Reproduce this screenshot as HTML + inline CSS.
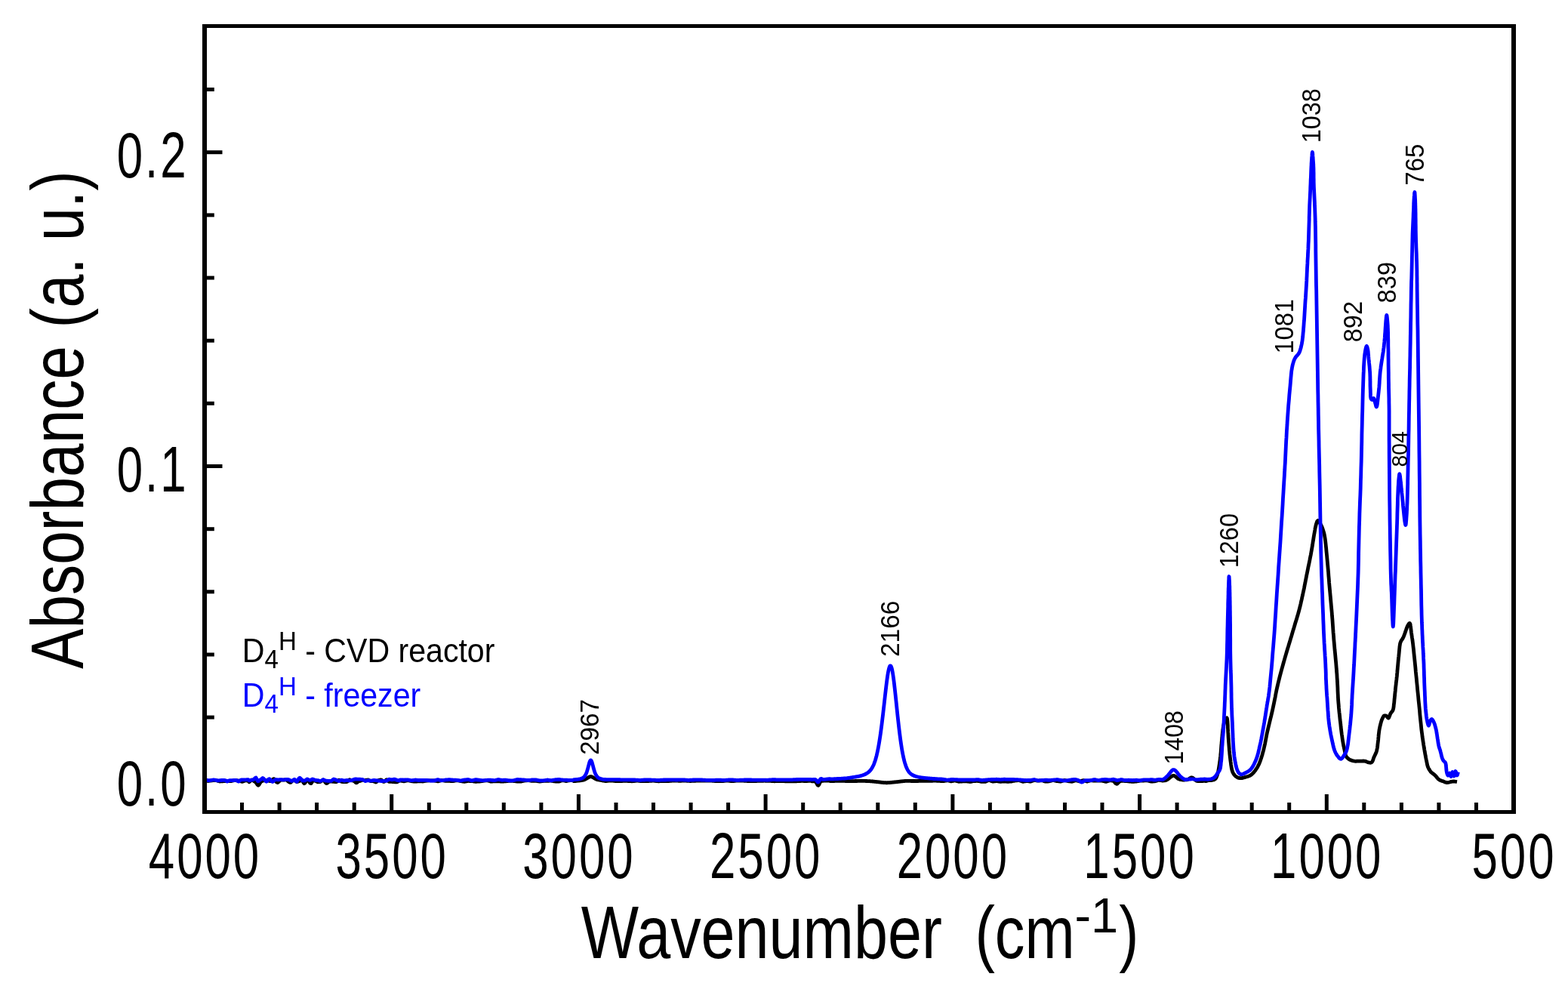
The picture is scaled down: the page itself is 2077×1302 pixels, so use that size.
<!DOCTYPE html>
<html><head><meta charset="utf-8"><title>IR spectra</title>
<style>html,body{margin:0;padding:0;background:#fff;overflow:hidden}svg{display:block}</style>
</head><body>
<svg width="2077" height="1302" viewBox="0 0 2077 1302">
<rect width="100%" height="100%" fill="#fff"/>
<path d="M271.0 1034.0 L272.0 1034.1 L273.0 1034.2 L274.0 1034.3 L275.0 1034.4 L276.0 1034.5 L277.0 1034.3 L278.0 1034.2 L279.0 1034.1 L280.0 1033.9 L281.0 1033.8 L282.0 1033.7 L283.0 1033.7 L284.0 1033.6 L285.0 1033.6 L286.0 1033.5 L287.0 1033.8 L288.0 1034.1 L289.0 1034.4 L290.0 1034.7 L291.0 1035.0 L292.0 1034.9 L293.0 1034.9 L294.0 1034.8 L295.0 1034.8 L296.0 1034.7 L297.0 1034.7 L298.0 1034.7 L299.0 1034.7 L300.0 1034.7 L301.0 1034.7 L302.0 1034.6 L303.0 1034.6 L304.0 1034.6 L305.0 1034.6 L306.0 1034.6 L307.0 1034.3 L308.0 1034.1 L309.0 1033.9 L310.0 1033.7 L311.0 1033.5 L312.0 1033.6 L313.0 1033.7 L314.0 1033.9 L315.0 1034.0 L316.0 1034.1 L317.0 1034.4 L318.0 1034.6 L319.0 1034.8 L320.0 1035.1 L321.0 1035.3 L322.0 1034.9 L323.0 1034.6 L324.0 1034.2 L325.0 1033.9 L326.0 1033.5 L327.0 1033.8 L328.0 1034.2 L329.0 1034.5 L330.0 1035.8 L331.0 1034.9 L332.0 1034.1 L333.0 1033.2 L334.0 1033.1 L335.0 1033.7 L336.0 1034.4 L337.0 1035.1 L338.0 1035.5 L339.0 1036.3 L340.0 1037.8 L341.0 1039.4 L342.0 1040.2 L343.0 1039.5 L344.0 1037.9 L345.0 1036.2 L346.0 1035.1 L347.0 1034.6 L348.0 1034.3 L349.0 1034.0 L350.0 1033.8 L351.0 1033.6 L352.0 1033.6 L353.0 1033.6 L354.0 1033.7 L355.0 1033.8 L356.0 1034.1 L357.0 1034.3 L358.0 1034.6 L359.0 1034.4 L360.0 1033.9 L361.0 1032.9 L362.0 1031.8 L363.0 1031.6 L364.0 1032.7 L365.0 1034.5 L366.0 1035.6 L367.0 1036.4 L368.0 1036.5 L369.0 1035.7 L370.0 1034.6 L371.0 1033.7 L372.0 1033.2 L373.0 1033.1 L374.0 1033.1 L375.0 1033.1 L376.0 1033.1 L377.0 1033.0 L378.0 1032.9 L379.0 1032.8 L380.0 1033.5 L381.0 1034.2 L382.0 1035.1 L383.0 1035.9 L384.0 1036.4 L385.0 1036.4 L386.0 1035.5 L387.0 1034.5 L388.0 1033.8 L389.0 1033.4 L390.0 1033.6 L391.0 1034.3 L392.0 1034.9 L393.0 1035.6 L394.0 1035.3 L395.0 1035.1 L396.0 1034.8 L397.0 1034.4 L398.0 1033.9 L399.0 1033.5 L400.0 1033.4 L401.0 1034.8 L402.0 1036.6 L403.0 1037.8 L404.0 1037.2 L405.0 1035.4 L406.0 1034.0 L407.0 1033.3 L408.0 1033.8 L409.0 1034.7 L410.0 1036.2 L411.0 1037.5 L412.0 1037.7 L413.0 1036.4 L414.0 1034.4 L415.0 1033.8 L416.0 1033.8 L417.0 1034.0 L418.0 1034.4 L419.0 1034.9 L420.0 1035.3 L421.0 1035.8 L422.0 1035.7 L423.0 1035.6 L424.0 1035.5 L425.0 1035.1 L426.0 1034.3 L427.0 1033.6 L428.0 1032.9 L429.0 1033.8 L430.0 1034.9 L431.0 1036.4 L432.0 1037.5 L433.0 1037.6 L434.0 1036.9 L435.0 1035.8 L436.0 1035.3 L437.0 1035.1 L438.0 1035.2 L439.0 1035.2 L440.0 1035.2 L441.0 1035.3 L442.0 1035.3 L443.0 1035.4 L444.0 1035.6 L445.0 1035.7 L446.0 1035.4 L447.0 1034.6 L448.0 1033.9 L449.0 1033.1 L450.0 1033.7 L451.0 1034.4 L452.0 1035.1 L453.0 1035.4 L454.0 1035.5 L455.0 1035.6 L456.0 1035.6 L457.0 1035.6 L458.0 1035.6 L459.0 1035.6 L460.0 1035.2 L461.0 1034.3 L462.0 1033.5 L463.0 1032.7 L464.0 1033.1 L465.0 1033.4 L466.0 1033.8 L467.0 1034.0 L468.0 1034.1 L469.0 1034.5 L470.0 1035.2 L471.0 1036.3 L472.0 1036.8 L473.0 1036.4 L474.0 1035.5 L475.0 1034.8 L476.0 1034.5 L477.0 1034.4 L478.0 1034.0 L479.0 1033.6 L480.0 1033.2 L481.0 1033.2 L482.0 1033.4 L483.0 1033.3 L484.0 1033.6 L485.0 1033.2 L486.0 1033.2 L487.0 1033.0 L488.0 1033.0 L489.0 1033.6 L490.0 1034.2 L491.0 1034.7 L492.0 1034.7 L493.0 1034.7 L494.0 1034.7 L495.0 1034.9 L496.0 1035.3 L497.0 1035.6 L498.0 1036.0 L499.0 1035.3 L500.0 1034.5 L501.0 1033.7 L502.0 1033.3 L503.0 1033.1 L504.0 1033.0 L505.0 1032.9 L506.0 1033.7 L507.0 1034.5 L508.0 1035.4 L509.0 1035.3 L510.0 1034.4 L511.0 1033.5 L512.0 1032.7 L513.0 1033.5 L514.0 1034.3 L515.0 1035.1 L516.0 1035.4 L517.0 1035.4 L518.0 1035.4 L519.0 1035.4 L520.0 1035.5 L521.0 1035.6 L522.0 1035.7 L523.0 1035.8 L524.0 1035.8 L525.0 1035.9 L526.0 1035.9 L527.0 1035.2 L528.0 1034.6 L529.0 1033.9 L530.0 1034.0 L531.0 1034.2 L532.0 1034.3 L533.0 1034.5 L534.0 1034.7 L535.0 1034.8 L536.0 1034.6 L537.0 1034.3 L538.0 1034.1 L539.0 1033.8 L540.0 1033.6 L541.0 1033.8 L542.0 1034.0 L543.0 1034.3 L544.0 1034.5 L545.0 1034.7 L546.0 1034.8 L547.0 1034.9 L548.0 1035.0 L549.0 1035.0 L550.0 1035.1 L551.0 1035.0 L552.0 1035.0 L553.0 1034.9 L554.0 1034.8 L555.0 1034.8 L556.0 1034.8 L557.0 1034.9 L558.0 1034.9 L559.0 1034.9 L560.0 1035.0 L561.0 1034.8 L562.0 1034.6 L563.0 1034.4 L564.0 1034.3 L565.0 1034.1 L566.0 1034.1 L567.0 1034.0 L568.0 1033.9 L569.0 1033.9 L570.0 1033.8 L571.0 1033.8 L572.0 1033.9 L573.0 1033.9 L574.0 1033.9 L575.0 1033.9 L576.0 1034.1 L577.0 1034.3 L578.0 1034.5 L579.0 1034.7 L580.0 1034.9 L581.0 1034.6 L582.0 1034.3 L583.0 1034.1 L584.0 1033.8 L585.0 1033.5 L586.0 1033.7 L587.0 1033.8 L588.0 1034.0 L589.0 1034.1 L590.0 1034.3 L591.0 1034.3 L592.0 1034.3 L593.0 1034.3 L594.0 1034.4 L595.0 1034.4 L596.0 1034.4 L597.0 1034.5 L598.0 1034.6 L599.0 1034.6 L600.0 1034.7 L601.0 1034.5 L602.0 1034.3 L603.0 1034.0 L604.0 1033.8 L605.0 1033.6 L606.0 1033.8 L607.0 1034.0 L608.0 1034.2 L609.0 1034.4 L610.0 1034.5 L611.0 1034.7 L612.0 1034.9 L613.0 1035.0 L614.0 1035.2 L615.0 1035.3 L616.0 1035.1 L617.0 1035.0 L618.0 1034.8 L619.0 1034.6 L620.0 1034.4 L621.0 1034.4 L622.0 1034.5 L623.0 1034.5 L624.0 1034.5 L625.0 1034.5 L626.0 1034.7 L627.0 1034.9 L628.0 1035.0 L629.0 1035.2 L630.0 1035.4 L631.0 1035.3 L632.0 1035.2 L633.0 1035.2 L634.0 1035.1 L635.0 1035.1 L636.0 1034.9 L637.0 1034.8 L638.0 1034.7 L639.0 1034.5 L640.0 1034.4 L641.0 1034.2 L642.0 1034.1 L643.0 1033.9 L644.0 1033.7 L645.0 1033.6 L646.0 1033.9 L647.0 1034.2 L648.0 1034.5 L649.0 1034.8 L650.0 1035.1 L651.0 1035.1 L652.0 1035.0 L653.0 1034.9 L654.0 1034.9 L655.0 1034.8 L656.0 1034.8 L657.0 1034.8 L658.0 1034.8 L659.0 1034.8 L660.0 1034.9 L661.0 1034.9 L662.0 1034.9 L663.0 1035.0 L664.0 1035.0 L665.0 1035.0 L666.0 1035.0 L667.0 1035.0 L668.0 1034.9 L669.0 1034.9 L670.0 1034.9 L671.0 1034.7 L672.0 1034.6 L673.0 1034.5 L674.0 1034.3 L675.0 1034.2 L676.0 1034.3 L677.0 1034.3 L678.0 1034.3 L679.0 1034.4 L680.0 1034.4 L681.0 1034.6 L682.0 1034.7 L683.0 1034.8 L684.0 1034.9 L685.0 1035.1 L686.0 1035.1 L687.0 1035.1 L688.0 1035.1 L689.0 1035.1 L690.0 1035.1 L691.0 1034.9 L692.0 1034.7 L693.0 1034.4 L694.0 1034.2 L695.0 1034.0 L696.0 1033.9 L697.0 1033.9 L698.0 1033.8 L699.0 1033.7 L700.0 1033.6 L701.0 1033.8 L702.0 1033.9 L703.0 1034.1 L704.0 1034.3 L705.0 1034.4 L706.0 1034.4 L707.0 1034.4 L708.0 1034.3 L709.0 1034.3 L710.0 1034.3 L711.0 1034.5 L712.0 1034.6 L713.0 1034.8 L714.0 1035.0 L715.0 1035.2 L716.0 1035.0 L717.0 1034.8 L718.0 1034.7 L719.0 1034.5 L720.0 1034.4 L721.0 1034.4 L722.0 1034.4 L723.0 1034.4 L724.0 1034.4 L725.0 1034.4 L726.0 1034.3 L727.0 1034.3 L728.0 1034.2 L729.0 1034.1 L730.0 1034.1 L731.0 1034.3 L732.0 1034.4 L733.0 1034.6 L734.0 1034.8 L735.0 1034.9 L736.0 1035.0 L737.0 1035.0 L738.0 1035.1 L739.0 1035.2 L740.0 1035.2 L741.0 1034.9 L742.0 1034.6 L743.0 1034.2 L744.0 1033.9 L745.0 1033.6 L746.0 1033.8 L747.0 1034.0 L748.0 1034.2 L749.0 1034.4 L750.0 1034.6 L751.0 1034.4 L752.0 1034.2 L753.0 1034.0 L754.0 1033.8 L755.0 1033.6 L756.0 1033.6 L757.0 1033.7 L758.0 1033.7 L759.0 1033.8 L760.0 1034.7 L761.0 1034.6 L762.0 1034.5 L763.0 1034.4 L764.0 1034.3 L765.0 1034.2 L766.0 1034.1 L767.0 1034.0 L768.0 1033.9 L769.0 1033.8 L770.0 1033.7 L770.5 1033.6 L771.0 1033.5 L771.5 1033.4 L772.0 1033.3 L772.5 1033.2 L773.0 1033.0 L773.5 1032.9 L774.0 1032.7 L774.5 1032.5 L775.0 1032.3 L775.5 1032.0 L776.0 1031.8 L776.5 1031.5 L777.0 1031.2 L777.5 1030.9 L778.0 1030.6 L778.5 1030.3 L779.0 1030.0 L779.5 1029.7 L780.0 1029.4 L780.5 1029.1 L781.0 1028.9 L781.5 1028.7 L782.0 1028.6 L782.5 1028.6 L783.0 1028.6 L783.5 1028.7 L784.0 1028.9 L784.5 1029.1 L785.0 1029.4 L785.5 1029.7 L786.0 1030.0 L786.5 1030.3 L787.0 1030.6 L787.5 1031.0 L788.0 1031.3 L788.5 1031.5 L789.0 1031.8 L789.5 1032.0 L790.0 1032.2 L790.5 1032.4 L791.0 1032.6 L791.5 1032.7 L792.0 1032.8 L792.5 1032.9 L793.0 1033.0 L793.5 1033.1 L794.0 1033.2 L794.5 1033.2 L795.0 1033.2 L795.5 1033.4 L796.0 1033.5 L797.0 1033.7 L798.0 1033.9 L799.0 1034.1 L800.0 1034.2 L801.0 1034.4 L802.0 1034.5 L803.0 1034.5 L804.0 1034.4 L805.0 1034.3 L806.0 1034.2 L807.0 1034.1 L808.0 1034.0 L809.0 1033.9 L810.0 1034.0 L811.0 1034.1 L812.0 1034.2 L813.0 1034.3 L814.0 1034.4 L815.0 1034.5 L816.0 1034.6 L817.0 1034.6 L818.0 1034.6 L819.0 1034.5 L820.0 1034.5 L821.0 1034.5 L822.0 1034.5 L823.0 1034.5 L824.0 1034.5 L825.0 1034.4 L826.0 1034.4 L827.0 1034.4 L828.0 1034.4 L829.0 1034.4 L830.0 1034.3 L831.0 1034.4 L832.0 1034.5 L833.0 1034.5 L834.0 1034.6 L835.0 1034.7 L836.0 1034.7 L837.0 1034.8 L838.0 1034.7 L839.0 1034.6 L840.0 1034.5 L841.0 1034.4 L842.0 1034.3 L843.0 1034.2 L844.0 1034.1 L845.0 1034.2 L846.0 1034.3 L847.0 1034.4 L848.0 1034.5 L849.0 1034.5 L850.0 1034.6 L851.0 1034.7 L852.0 1034.7 L853.0 1034.7 L854.0 1034.6 L855.0 1034.6 L856.0 1034.6 L857.0 1034.6 L858.0 1034.6 L859.0 1034.5 L860.0 1034.4 L861.0 1034.4 L862.0 1034.3 L863.0 1034.3 L864.0 1034.2 L865.0 1034.1 L866.0 1034.2 L867.0 1034.3 L868.0 1034.4 L869.0 1034.5 L870.0 1034.6 L871.0 1034.7 L872.0 1034.8 L873.0 1034.8 L874.0 1034.7 L875.0 1034.7 L876.0 1034.6 L877.0 1034.6 L878.0 1034.5 L879.0 1034.5 L880.0 1034.5 L881.0 1034.5 L882.0 1034.5 L883.0 1034.5 L884.0 1034.5 L885.0 1034.5 L886.0 1034.5 L887.0 1034.4 L888.0 1034.4 L889.0 1034.3 L890.0 1034.2 L891.0 1034.2 L892.0 1034.1 L893.0 1034.0 L894.0 1034.1 L895.0 1034.1 L896.0 1034.2 L897.0 1034.2 L898.0 1034.2 L899.0 1034.3 L900.0 1034.3 L901.0 1034.3 L902.0 1034.3 L903.0 1034.2 L904.0 1034.2 L905.0 1034.2 L906.0 1034.2 L907.0 1034.1 L908.0 1034.2 L909.0 1034.2 L910.0 1034.3 L911.0 1034.3 L912.0 1034.4 L913.0 1034.4 L914.0 1034.5 L915.0 1034.5 L916.0 1034.4 L917.0 1034.4 L918.0 1034.4 L919.0 1034.3 L920.0 1034.3 L921.0 1034.3 L922.0 1034.2 L923.0 1034.2 L924.0 1034.2 L925.0 1034.1 L926.0 1034.1 L927.0 1034.1 L928.0 1034.1 L929.0 1034.1 L930.0 1034.1 L931.0 1034.1 L932.0 1034.2 L933.0 1034.2 L934.0 1034.2 L935.0 1034.2 L936.0 1034.2 L937.0 1034.2 L938.0 1034.2 L939.0 1034.2 L940.0 1034.1 L941.0 1034.1 L942.0 1034.1 L943.0 1034.2 L944.0 1034.3 L945.0 1034.4 L946.0 1034.4 L947.0 1034.5 L948.0 1034.6 L949.0 1034.7 L950.0 1034.7 L951.0 1034.7 L952.0 1034.7 L953.0 1034.7 L954.0 1034.7 L955.0 1034.7 L956.0 1034.7 L957.0 1034.6 L958.0 1034.5 L959.0 1034.4 L960.0 1034.3 L961.0 1034.2 L962.0 1034.2 L963.0 1034.1 L964.0 1034.1 L965.0 1034.2 L966.0 1034.3 L967.0 1034.4 L968.0 1034.5 L969.0 1034.6 L970.0 1034.6 L971.0 1034.5 L972.0 1034.5 L973.0 1034.4 L974.0 1034.3 L975.0 1034.2 L976.0 1034.1 L977.0 1034.0 L978.0 1034.0 L979.0 1034.0 L980.0 1034.0 L981.0 1034.1 L982.0 1034.1 L983.0 1034.1 L984.0 1034.1 L985.0 1034.2 L986.0 1034.3 L987.0 1034.3 L988.0 1034.4 L989.0 1034.4 L990.0 1034.5 L991.0 1034.5 L992.0 1034.6 L993.0 1034.6 L994.0 1034.6 L995.0 1034.6 L996.0 1034.6 L997.0 1034.6 L998.0 1034.6 L999.0 1034.6 L1000.0 1034.6 L1001.0 1034.5 L1002.0 1034.5 L1003.0 1034.4 L1004.0 1034.4 L1005.0 1034.4 L1006.0 1034.4 L1007.0 1034.3 L1008.0 1034.3 L1009.0 1034.3 L1010.0 1034.3 L1011.0 1034.3 L1012.0 1034.2 L1013.0 1034.2 L1014.0 1034.3 L1015.0 1034.3 L1016.0 1034.3 L1017.0 1034.3 L1018.0 1034.3 L1019.0 1034.3 L1020.0 1034.4 L1021.0 1034.4 L1022.0 1034.5 L1023.0 1034.6 L1024.0 1034.6 L1025.0 1034.7 L1026.0 1034.8 L1027.0 1034.7 L1028.0 1034.7 L1029.0 1034.6 L1030.0 1034.6 L1031.0 1034.5 L1032.0 1034.5 L1033.0 1034.4 L1034.0 1034.5 L1035.0 1034.5 L1036.0 1034.6 L1037.0 1034.6 L1038.0 1034.7 L1039.0 1034.7 L1040.0 1034.8 L1041.0 1034.8 L1042.0 1034.8 L1043.0 1034.8 L1044.0 1034.8 L1045.0 1034.8 L1046.0 1034.8 L1047.0 1034.9 L1048.0 1034.8 L1049.0 1034.8 L1050.0 1034.8 L1051.0 1034.8 L1052.0 1034.8 L1053.0 1034.8 L1054.0 1034.8 L1055.0 1034.8 L1056.0 1034.7 L1057.0 1034.7 L1058.0 1034.6 L1059.0 1034.5 L1060.0 1034.5 L1061.0 1034.4 L1062.0 1034.4 L1063.0 1034.4 L1064.0 1034.4 L1065.0 1034.5 L1066.0 1034.5 L1067.0 1034.5 L1068.0 1034.5 L1069.0 1034.5 L1070.0 1034.4 L1071.0 1034.3 L1072.0 1034.3 L1073.0 1034.2 L1074.0 1034.2 L1075.0 1034.8 L1076.0 1034.8 L1077.0 1034.8 L1078.0 1034.8 L1079.0 1034.9 L1080.0 1035.2 L1081.0 1036.2 L1082.0 1038.0 L1083.0 1039.9 L1084.0 1040.4 L1085.0 1039.0 L1086.0 1036.8 L1087.0 1035.1 L1088.0 1034.4 L1089.0 1034.3 L1090.0 1034.3 L1091.0 1034.2 L1092.0 1034.2 L1093.0 1034.1 L1094.0 1034.1 L1095.0 1034.2 L1096.0 1034.2 L1097.0 1034.2 L1098.0 1034.2 L1099.0 1034.3 L1100.0 1034.6 L1101.0 1034.6 L1102.0 1034.6 L1103.0 1034.5 L1104.0 1034.5 L1105.0 1034.5 L1106.0 1034.4 L1107.0 1034.4 L1108.0 1034.4 L1109.0 1034.3 L1110.0 1034.3 L1111.0 1034.3 L1112.0 1034.3 L1113.0 1034.3 L1114.0 1034.3 L1115.0 1034.4 L1116.0 1034.4 L1117.0 1034.4 L1118.0 1034.4 L1119.0 1034.4 L1120.0 1034.5 L1121.0 1034.5 L1122.0 1034.5 L1123.0 1034.5 L1124.0 1034.5 L1125.0 1034.6 L1126.0 1034.6 L1127.0 1034.6 L1128.0 1034.6 L1129.0 1034.6 L1130.0 1034.7 L1131.0 1034.6 L1132.0 1034.6 L1133.0 1034.5 L1134.0 1034.5 L1135.0 1034.5 L1136.0 1034.4 L1137.0 1034.4 L1138.0 1034.3 L1139.0 1034.3 L1140.0 1034.3 L1141.0 1034.3 L1142.0 1034.3 L1143.0 1034.3 L1144.0 1034.4 L1145.0 1034.4 L1146.0 1034.4 L1147.0 1034.5 L1148.0 1034.5 L1149.0 1034.6 L1150.0 1034.6 L1150.5 1034.6 L1151.0 1034.7 L1151.5 1034.7 L1152.0 1034.7 L1152.5 1034.7 L1153.0 1034.8 L1153.5 1034.8 L1154.0 1034.8 L1154.5 1034.9 L1155.0 1034.9 L1155.5 1035.0 L1156.0 1035.0 L1156.5 1035.0 L1157.0 1035.1 L1157.5 1035.1 L1158.0 1035.2 L1158.5 1035.3 L1159.0 1035.3 L1159.5 1035.4 L1160.0 1035.4 L1160.5 1035.5 L1161.0 1035.5 L1161.5 1035.6 L1162.0 1035.6 L1162.5 1035.7 L1163.0 1035.7 L1163.5 1035.8 L1164.0 1035.8 L1164.5 1035.9 L1165.0 1036.0 L1165.5 1036.0 L1166.0 1036.1 L1166.5 1036.1 L1167.0 1036.2 L1167.5 1036.3 L1168.0 1036.3 L1168.5 1036.4 L1169.0 1036.4 L1169.5 1036.5 L1170.0 1036.5 L1170.5 1036.6 L1171.0 1036.6 L1171.5 1036.6 L1172.0 1036.7 L1172.5 1036.7 L1173.0 1036.7 L1173.5 1036.7 L1174.0 1036.8 L1174.5 1036.8 L1175.0 1036.8 L1175.5 1036.7 L1176.0 1036.7 L1176.5 1036.7 L1177.0 1036.7 L1177.5 1036.6 L1178.0 1036.6 L1178.5 1036.6 L1179.0 1036.5 L1179.5 1036.5 L1180.0 1036.4 L1180.5 1036.4 L1181.0 1036.3 L1181.5 1036.3 L1182.0 1036.2 L1182.5 1036.2 L1183.0 1036.1 L1183.5 1036.1 L1184.0 1036.0 L1184.5 1036.0 L1185.0 1035.9 L1185.5 1035.9 L1186.0 1035.8 L1186.5 1035.8 L1187.0 1035.7 L1187.5 1035.7 L1188.0 1035.6 L1188.5 1035.6 L1189.0 1035.5 L1189.5 1035.5 L1190.0 1035.4 L1190.5 1035.4 L1191.0 1035.3 L1191.5 1035.2 L1192.0 1035.2 L1192.5 1035.1 L1193.0 1035.0 L1193.5 1035.0 L1194.0 1034.9 L1194.5 1034.9 L1195.0 1034.8 L1195.5 1034.8 L1196.0 1034.7 L1196.5 1034.7 L1197.0 1034.6 L1197.5 1034.6 L1198.0 1034.5 L1198.5 1034.5 L1199.0 1034.4 L1199.5 1034.4 L1200.0 1034.4 L1200.5 1034.4 L1201.0 1034.4 L1201.5 1034.4 L1202.0 1034.4 L1202.5 1034.4 L1203.0 1034.4 L1203.5 1034.4 L1204.0 1034.4 L1204.5 1034.4 L1205.0 1034.4 L1205.5 1034.4 L1206.0 1034.4 L1206.5 1034.5 L1207.0 1034.5 L1207.5 1034.5 L1208.0 1034.5 L1208.5 1034.5 L1209.0 1034.5 L1209.5 1034.5 L1210.0 1034.5 L1211.0 1034.5 L1212.0 1034.5 L1213.0 1034.5 L1214.0 1034.5 L1215.0 1034.5 L1216.0 1034.5 L1217.0 1034.4 L1218.0 1034.4 L1219.0 1034.4 L1220.0 1034.4 L1221.0 1034.4 L1222.0 1034.4 L1223.0 1034.4 L1224.0 1034.3 L1225.0 1034.3 L1226.0 1034.3 L1227.0 1034.3 L1228.0 1034.3 L1229.0 1034.3 L1230.0 1034.3 L1231.0 1034.3 L1232.0 1034.3 L1233.0 1034.3 L1234.0 1034.3 L1235.0 1034.3 L1236.0 1034.2 L1237.0 1034.2 L1238.0 1034.2 L1239.0 1034.2 L1240.0 1034.2 L1241.0 1034.3 L1242.0 1034.3 L1243.0 1034.4 L1244.0 1034.4 L1245.0 1034.4 L1246.0 1034.5 L1247.0 1034.5 L1248.0 1034.6 L1249.0 1034.6 L1250.0 1034.6 L1251.0 1034.4 L1252.0 1034.2 L1253.0 1034.1 L1254.0 1033.9 L1255.0 1033.7 L1256.0 1033.9 L1257.0 1034.2 L1258.0 1034.4 L1259.0 1034.6 L1260.0 1034.9 L1261.0 1034.7 L1262.0 1034.5 L1263.0 1034.3 L1264.0 1034.0 L1265.0 1033.8 L1266.0 1034.1 L1267.0 1034.4 L1268.0 1034.7 L1269.0 1035.0 L1270.0 1035.3 L1271.0 1035.2 L1272.0 1035.2 L1273.0 1035.1 L1274.0 1035.0 L1275.0 1034.9 L1276.0 1034.9 L1277.0 1034.9 L1278.0 1034.8 L1279.0 1034.8 L1280.0 1034.8 L1281.0 1034.9 L1282.0 1035.1 L1283.0 1035.2 L1284.0 1035.3 L1285.0 1035.5 L1286.0 1035.3 L1287.0 1035.1 L1288.0 1034.9 L1289.0 1034.7 L1290.0 1034.5 L1291.0 1034.5 L1292.0 1034.5 L1293.0 1034.4 L1294.0 1034.4 L1295.0 1034.4 L1296.0 1034.6 L1297.0 1034.7 L1298.0 1034.9 L1299.0 1035.1 L1300.0 1035.3 L1301.0 1035.3 L1302.0 1035.3 L1303.0 1035.4 L1304.0 1035.4 L1305.0 1035.4 L1306.0 1035.0 L1307.0 1034.6 L1308.0 1034.1 L1309.0 1033.7 L1310.0 1033.3 L1311.0 1033.7 L1312.0 1034.0 L1313.0 1034.4 L1314.0 1034.8 L1315.0 1035.1 L1316.0 1035.0 L1317.0 1034.9 L1318.0 1034.8 L1319.0 1034.6 L1320.0 1034.5 L1321.0 1034.7 L1322.0 1034.9 L1323.0 1035.0 L1324.0 1035.2 L1325.0 1035.4 L1326.0 1035.3 L1327.0 1035.2 L1328.0 1035.1 L1329.0 1035.0 L1330.0 1034.9 L1331.0 1035.0 L1332.0 1035.1 L1333.0 1035.2 L1334.0 1035.3 L1335.0 1035.4 L1336.0 1035.3 L1337.0 1035.2 L1338.0 1035.1 L1339.0 1035.1 L1340.0 1035.0 L1341.0 1034.7 L1342.0 1034.5 L1343.0 1034.3 L1344.0 1034.1 L1345.0 1033.9 L1346.0 1033.8 L1347.0 1033.8 L1348.0 1033.7 L1349.0 1033.6 L1350.0 1033.6 L1351.0 1033.9 L1352.0 1034.3 L1353.0 1034.6 L1354.0 1034.9 L1355.0 1035.3 L1356.0 1035.1 L1357.0 1034.9 L1358.0 1034.8 L1359.0 1034.6 L1360.0 1034.4 L1361.0 1034.6 L1362.0 1034.7 L1363.0 1034.9 L1364.0 1035.0 L1365.0 1035.2 L1366.0 1034.8 L1367.0 1034.5 L1368.0 1034.1 L1369.0 1033.8 L1370.0 1033.4 L1371.0 1033.6 L1372.0 1033.7 L1373.0 1033.9 L1374.0 1034.1 L1375.0 1034.2 L1376.0 1034.1 L1377.0 1034.0 L1378.0 1033.9 L1379.0 1033.8 L1380.0 1033.7 L1381.0 1034.0 L1382.0 1034.3 L1383.0 1034.6 L1384.0 1034.9 L1385.0 1035.2 L1386.0 1035.1 L1387.0 1035.0 L1388.0 1035.0 L1389.0 1034.9 L1390.0 1034.8 L1391.0 1034.5 L1392.0 1034.3 L1393.0 1034.0 L1394.0 1033.7 L1395.0 1033.4 L1396.0 1033.7 L1397.0 1033.9 L1398.0 1034.2 L1399.0 1034.4 L1400.0 1034.6 L1401.0 1034.7 L1402.0 1034.8 L1403.0 1034.9 L1404.0 1035.0 L1405.0 1035.1 L1406.0 1034.8 L1407.0 1034.4 L1408.0 1034.1 L1409.0 1033.7 L1410.0 1033.4 L1411.0 1033.6 L1412.0 1033.9 L1413.0 1034.1 L1414.0 1034.4 L1415.0 1034.6 L1416.0 1034.8 L1417.0 1034.9 L1418.0 1035.0 L1419.0 1035.2 L1420.0 1035.3 L1421.0 1035.0 L1422.0 1034.6 L1423.0 1034.3 L1424.0 1034.0 L1425.0 1033.6 L1426.0 1033.9 L1427.0 1034.1 L1428.0 1034.4 L1429.0 1034.6 L1430.0 1034.9 L1431.0 1034.6 L1432.0 1034.4 L1433.0 1034.1 L1434.0 1033.9 L1435.0 1033.6 L1436.0 1033.9 L1437.0 1034.2 L1438.0 1034.5 L1439.0 1034.8 L1440.0 1035.1 L1441.0 1034.8 L1442.0 1034.5 L1443.0 1034.3 L1444.0 1034.0 L1445.0 1033.7 L1446.0 1033.8 L1447.0 1033.9 L1448.0 1034.0 L1449.0 1034.0 L1450.0 1034.1 L1451.0 1034.1 L1452.0 1034.1 L1453.0 1034.1 L1454.0 1034.1 L1455.0 1034.1 L1456.0 1034.1 L1457.0 1034.1 L1458.0 1034.1 L1459.0 1034.1 L1460.0 1034.1 L1461.0 1034.4 L1462.0 1034.7 L1463.0 1034.9 L1464.0 1035.2 L1465.0 1035.4 L1466.0 1035.1 L1467.0 1034.7 L1468.0 1034.4 L1469.0 1034.1 L1470.0 1033.7 L1471.0 1033.8 L1472.0 1033.9 L1473.0 1034.0 L1474.0 1034.2 L1475.0 1034.7 L1476.0 1035.5 L1477.0 1036.7 L1478.0 1037.7 L1479.0 1038.3 L1480.0 1038.1 L1481.0 1037.1 L1482.0 1036.0 L1483.0 1035.1 L1484.0 1034.6 L1485.0 1034.3 L1486.0 1034.3 L1487.0 1034.3 L1488.0 1034.4 L1489.0 1034.4 L1490.0 1034.5 L1491.0 1034.6 L1492.0 1034.7 L1493.0 1034.7 L1494.0 1034.8 L1495.0 1034.9 L1496.0 1035.0 L1497.0 1035.1 L1498.0 1035.2 L1499.0 1035.3 L1500.0 1035.4 L1501.0 1035.4 L1502.0 1035.3 L1503.0 1035.2 L1504.0 1035.1 L1505.0 1035.0 L1506.0 1034.9 L1507.0 1034.7 L1508.0 1034.5 L1509.0 1034.4 L1510.0 1034.2 L1511.0 1034.1 L1512.0 1034.1 L1513.0 1034.0 L1514.0 1034.0 L1515.0 1034.0 L1516.0 1033.9 L1517.0 1033.9 L1518.0 1033.9 L1519.0 1033.9 L1520.0 1033.9 L1521.0 1034.2 L1522.0 1034.4 L1523.0 1034.6 L1524.0 1034.9 L1525.0 1035.1 L1526.0 1035.0 L1527.0 1035.0 L1528.0 1034.9 L1529.0 1034.8 L1530.0 1034.8 L1531.0 1034.5 L1532.0 1034.2 L1533.0 1033.8 L1534.0 1033.5 L1535.0 1033.2 L1536.0 1033.4 L1537.0 1033.6 L1538.0 1033.7 L1539.0 1033.9 L1540.0 1034.0 L1540.5 1034.0 L1541.0 1034.0 L1541.5 1033.9 L1542.0 1033.9 L1542.5 1033.8 L1543.0 1033.8 L1543.5 1033.7 L1544.0 1033.6 L1544.5 1033.4 L1545.0 1033.3 L1545.5 1033.0 L1546.0 1032.7 L1546.5 1032.4 L1547.0 1032.1 L1547.5 1031.7 L1548.0 1031.4 L1548.5 1031.0 L1549.0 1030.5 L1549.5 1030.1 L1550.0 1029.7 L1550.5 1029.3 L1551.0 1028.9 L1551.5 1028.6 L1552.0 1028.2 L1552.5 1027.9 L1553.0 1027.7 L1553.5 1027.5 L1554.0 1027.4 L1554.5 1027.3 L1555.0 1027.4 L1555.5 1027.5 L1556.0 1027.8 L1556.5 1028.1 L1557.0 1028.4 L1557.5 1028.8 L1558.0 1029.2 L1558.5 1029.7 L1559.0 1030.2 L1559.5 1030.6 L1560.0 1031.1 L1560.5 1031.4 L1561.0 1031.6 L1561.5 1031.8 L1562.0 1032.0 L1562.5 1032.2 L1563.0 1032.4 L1563.5 1032.5 L1564.0 1032.6 L1564.5 1032.7 L1565.0 1032.7 L1565.5 1032.8 L1566.0 1032.9 L1566.5 1033.0 L1567.0 1033.0 L1567.5 1033.0 L1568.0 1033.0 L1568.5 1033.0 L1569.0 1033.0 L1569.5 1033.0 L1570.0 1032.9 L1571.0 1032.9 L1572.0 1032.8 L1573.0 1032.6 L1574.0 1032.1 L1575.0 1031.6 L1576.0 1030.8 L1577.0 1030.2 L1578.0 1029.9 L1579.0 1029.9 L1580.0 1030.3 L1581.0 1031.1 L1582.0 1032.0 L1583.0 1032.9 L1584.0 1033.7 L1585.0 1034.3 L1586.0 1034.5 L1587.0 1034.7 L1588.0 1034.7 L1589.0 1034.7 L1590.0 1034.6 L1591.0 1034.6 L1592.0 1034.5 L1593.0 1034.5 L1594.0 1034.4 L1595.0 1034.4 L1596.0 1034.4 L1597.0 1034.5 L1598.0 1034.5 L1600.0 1033.8 L1601.2 1033.7 L1602.5 1033.7 L1603.7 1033.6 L1604.9 1033.5 L1606.0 1033.3 L1607.5 1032.9 L1608.8 1032.4 L1610.0 1031.5 L1610.7 1030.7 L1611.2 1029.7 L1611.7 1028.5 L1612.2 1027.2 L1612.6 1025.9 L1613.0 1024.5 L1613.4 1023.0 L1613.8 1021.3 L1614.1 1019.5 L1614.4 1017.7 L1614.7 1015.8 L1615.0 1014.0 L1615.3 1012.2 L1615.5 1010.5 L1615.7 1009.1 L1615.9 1007.8 L1616.1 1006.4 L1616.2 1005.1 L1616.4 1003.9 L1616.5 1002.6 L1616.7 1001.3 L1616.8 1000.0 L1616.9 998.6 L1617.1 997.1 L1617.2 995.7 L1617.3 994.3 L1617.4 992.9 L1617.5 991.4 L1617.6 990.0 L1617.7 988.6 L1617.8 987.1 L1618.0 985.7 L1618.1 984.3 L1618.2 982.9 L1618.4 981.4 L1618.5 980.0 L1618.6 978.6 L1618.7 977.1 L1618.9 975.7 L1619.0 974.2 L1619.1 972.8 L1619.3 971.4 L1619.4 970.0 L1619.6 968.6 L1619.7 967.2 L1619.9 965.9 L1620.1 964.6 L1620.3 963.3 L1620.5 962.0 L1620.8 960.6 L1621.0 959.3 L1621.3 957.9 L1621.6 956.7 L1622.0 955.5 L1622.5 954.1 L1623.1 952.8 L1623.7 951.8 L1624.4 951.1 L1625.0 950.8 L1625.4 951.4 L1625.6 952.5 L1625.8 954.0 L1626.0 955.5 L1626.1 956.7 L1626.2 958.0 L1626.3 959.5 L1626.4 961.0 L1626.4 962.6 L1626.4 964.2 L1626.5 965.9 L1626.6 967.6 L1626.7 969.9 L1626.9 972.4 L1627.0 975.0 L1627.2 977.7 L1627.4 980.4 L1627.6 983.1 L1627.8 985.8 L1628.0 988.4 L1628.2 991.0 L1628.4 993.7 L1628.7 996.3 L1628.9 999.0 L1629.2 1001.6 L1629.5 1004.1 L1629.8 1006.6 L1630.1 1009.0 L1630.4 1010.9 L1630.6 1012.8 L1630.9 1014.7 L1631.2 1016.6 L1631.5 1018.3 L1631.9 1020.0 L1632.4 1021.5 L1632.9 1022.9 L1633.6 1024.2 L1634.3 1025.4 L1635.1 1026.5 L1636.0 1027.5 L1637.0 1028.3 L1638.2 1029.2 L1639.5 1029.9 L1640.9 1030.4 L1642.4 1030.7 L1643.6 1030.7 L1644.8 1030.6 L1646.1 1030.3 L1647.4 1030.0 L1648.7 1029.6 L1650.0 1029.2 L1651.3 1028.8 L1652.5 1028.5 L1653.8 1028.1 L1655.0 1027.6 L1656.2 1027.0 L1657.4 1026.2 L1658.5 1025.3 L1659.6 1024.3 L1660.6 1023.1 L1661.7 1021.9 L1662.7 1020.6 L1663.6 1019.2 L1664.5 1017.9 L1665.4 1016.5 L1666.2 1015.1 L1666.9 1013.6 L1667.6 1012.2 L1668.3 1010.6 L1668.9 1009.1 L1669.5 1007.5 L1670.0 1005.9 L1670.6 1004.2 L1671.2 1002.2 L1671.9 1000.2 L1672.4 998.1 L1673.0 996.0 L1673.6 993.9 L1674.1 991.7 L1674.6 989.5 L1675.1 987.4 L1675.6 985.2 L1676.0 983.1 L1676.4 981.0 L1676.8 978.9 L1677.2 976.7 L1677.6 974.5 L1678.1 972.1 L1678.6 969.7 L1679.4 966.4 L1680.2 962.9 L1681.1 959.2 L1682.0 955.5 L1682.9 951.7 L1683.9 947.8 L1684.8 943.9 L1685.7 940.0 L1686.6 935.8 L1687.5 931.4 L1688.4 927.1 L1689.3 922.7 L1690.1 918.2 L1691.0 913.8 L1692.0 909.4 L1693.0 905.0 L1694.1 900.6 L1695.2 896.2 L1696.4 891.7 L1697.6 887.2 L1698.8 882.8 L1700.0 878.5 L1701.2 874.4 L1702.3 870.4 L1703.2 867.3 L1704.1 864.3 L1705.0 861.3 L1705.8 858.5 L1706.7 855.7 L1707.5 852.9 L1708.4 850.1 L1709.2 847.4 L1709.9 844.9 L1710.7 842.4 L1711.4 840.0 L1712.1 837.6 L1712.8 835.2 L1713.6 832.8 L1714.3 830.4 L1715.0 828.0 L1715.7 825.5 L1716.5 823.0 L1717.3 820.6 L1718.0 818.1 L1718.8 815.6 L1719.5 813.0 L1720.2 810.5 L1720.9 807.9 L1721.6 805.1 L1722.3 802.3 L1723.0 799.5 L1723.6 796.6 L1724.3 793.7 L1724.9 790.8 L1725.6 787.9 L1726.2 784.9 L1726.9 781.7 L1727.6 778.4 L1728.2 775.1 L1728.9 771.8 L1729.5 768.4 L1730.2 765.1 L1730.8 761.7 L1731.5 758.4 L1732.2 755.1 L1732.8 751.8 L1733.5 748.5 L1734.2 745.2 L1734.9 741.8 L1735.5 738.5 L1736.2 735.2 L1736.8 731.9 L1737.4 728.5 L1738.0 725.0 L1738.6 721.5 L1739.1 718.0 L1739.7 714.5 L1740.2 711.2 L1740.7 708.2 L1741.2 705.4 L1741.5 703.7 L1741.8 702.1 L1742.0 700.5 L1742.3 699.1 L1742.6 697.7 L1742.9 696.4 L1743.2 695.1 L1743.5 694.0 L1744.0 692.5 L1744.5 691.1 L1745.0 690.0 L1745.6 689.5 L1746.3 689.8 L1747.0 690.6 L1747.8 691.8 L1748.5 693.0 L1749.1 694.1 L1749.8 695.4 L1750.5 696.7 L1751.2 698.3 L1751.8 699.9 L1752.4 701.6 L1753.0 703.5 L1753.6 705.4 L1754.4 708.9 L1755.1 712.9 L1755.7 717.3 L1756.2 721.9 L1756.7 726.6 L1757.1 731.4 L1757.6 736.2 L1758.0 740.7 L1758.4 745.1 L1758.8 749.5 L1759.2 754.0 L1759.6 758.4 L1759.9 762.8 L1760.3 767.3 L1760.6 771.7 L1761.0 776.1 L1761.4 780.5 L1761.8 784.9 L1762.2 789.3 L1762.6 793.7 L1763.0 798.2 L1763.4 802.6 L1763.8 807.0 L1764.2 811.4 L1764.5 815.8 L1764.9 820.2 L1765.2 824.7 L1765.5 829.1 L1765.8 833.5 L1766.1 838.0 L1766.5 842.4 L1766.8 846.8 L1767.2 851.3 L1767.6 855.9 L1768.0 860.6 L1768.5 865.2 L1768.9 869.7 L1769.3 874.1 L1769.7 878.3 L1770.0 882.1 L1770.2 884.6 L1770.4 886.9 L1770.5 889.0 L1770.7 891.1 L1770.9 893.2 L1771.0 895.3 L1771.1 897.6 L1771.3 900.0 L1771.5 903.5 L1771.7 907.2 L1771.9 911.0 L1772.0 915.0 L1772.2 919.0 L1772.4 923.0 L1772.6 927.0 L1772.9 930.7 L1773.2 934.0 L1773.4 937.2 L1773.7 940.4 L1774.0 943.5 L1774.4 946.6 L1774.7 949.7 L1775.0 952.9 L1775.4 956.0 L1775.8 959.2 L1776.1 962.6 L1776.5 965.9 L1776.9 969.3 L1777.3 972.5 L1777.8 975.7 L1778.2 978.7 L1778.6 981.4 L1778.9 983.2 L1779.2 984.9 L1779.5 986.6 L1779.8 988.2 L1780.2 989.7 L1780.5 991.2 L1780.8 992.6 L1781.1 994.0 L1781.4 995.4 L1781.6 996.8 L1781.9 998.2 L1782.1 999.5 L1782.5 1000.6 L1783.0 1001.7 L1783.8 1002.8 L1784.7 1003.8 L1785.7 1004.7 L1786.8 1005.5 L1787.9 1006.2 L1789.2 1006.7 L1790.5 1007.3 L1791.9 1007.7 L1793.2 1008.0 L1794.5 1008.2 L1795.9 1008.3 L1797.2 1008.2 L1798.6 1008.2 L1800.0 1008.2 L1801.4 1008.2 L1802.8 1008.1 L1804.3 1008.1 L1805.8 1008.0 L1807.1 1008.1 L1808.3 1008.2 L1809.6 1008.6 L1810.8 1009.2 L1812.0 1009.6 L1813.1 1009.9 L1814.4 1010.2 L1815.5 1010.3 L1816.6 1010.0 L1817.4 1009.3 L1818.1 1008.1 L1818.7 1006.7 L1819.2 1005.1 L1819.7 1003.6 L1820.3 1002.2 L1820.9 1001.0 L1821.5 999.8 L1822.0 998.6 L1822.6 997.4 L1823.1 996.2 L1823.5 994.8 L1823.8 993.5 L1824.1 992.1 L1824.4 990.6 L1824.6 989.1 L1824.8 987.6 L1824.9 986.0 L1825.1 984.5 L1825.3 982.9 L1825.5 981.2 L1825.7 979.5 L1825.8 977.7 L1826.0 975.9 L1826.1 974.1 L1826.3 972.4 L1826.5 970.7 L1826.7 969.1 L1826.9 967.7 L1827.1 966.3 L1827.4 965.0 L1827.6 963.7 L1827.9 962.4 L1828.2 961.1 L1828.5 959.9 L1828.8 958.6 L1829.2 957.3 L1829.5 956.0 L1829.9 954.8 L1830.3 953.6 L1830.8 952.5 L1831.4 951.1 L1832.1 949.7 L1832.8 948.6 L1833.6 947.9 L1835.0 947.8 L1836.4 948.3 L1837.4 949.3 L1838.3 950.5 L1839.1 951.1 L1839.7 950.6 L1840.2 949.4 L1840.8 947.9 L1841.3 946.4 L1841.9 945.1 L1842.7 943.9 L1843.6 942.9 L1844.4 941.8 L1845.1 940.5 L1845.5 939.3 L1845.8 938.0 L1846.0 936.6 L1846.2 935.1 L1846.3 933.6 L1846.5 932.2 L1846.7 930.9 L1846.8 929.7 L1846.9 928.4 L1847.0 927.1 L1847.1 925.8 L1847.3 924.4 L1847.4 923.0 L1847.6 921.4 L1847.7 919.7 L1847.9 918.0 L1848.1 916.2 L1848.3 914.4 L1848.4 912.7 L1848.6 910.9 L1848.8 909.2 L1849.0 907.6 L1849.2 906.1 L1849.3 904.6 L1849.5 903.1 L1849.7 901.5 L1849.9 900.0 L1850.0 898.5 L1850.2 897.0 L1850.4 895.5 L1850.5 894.0 L1850.6 892.5 L1850.8 891.0 L1850.9 889.5 L1851.0 887.9 L1851.2 886.3 L1851.3 884.7 L1851.5 882.6 L1851.7 880.5 L1851.9 878.3 L1852.1 876.0 L1852.3 873.7 L1852.5 871.4 L1852.8 869.2 L1853.0 867.0 L1853.2 864.9 L1853.4 862.7 L1853.6 860.5 L1853.8 858.4 L1854.0 856.3 L1854.3 854.3 L1854.6 852.4 L1855.1 850.8 L1855.7 849.3 L1856.5 848.0 L1857.3 846.9 L1858.1 845.7 L1858.8 844.3 L1859.3 843.1 L1859.8 841.8 L1860.3 840.5 L1860.8 839.1 L1861.3 837.7 L1861.7 836.4 L1862.2 835.1 L1862.6 833.9 L1863.1 832.6 L1863.5 831.3 L1864.0 830.1 L1864.5 829.0 L1865.0 828.0 L1865.8 826.8 L1866.6 825.8 L1867.3 825.5 L1867.7 826.0 L1868.1 827.0 L1868.3 828.4 L1868.6 830.2 L1868.8 832.1 L1869.0 834.2 L1869.3 836.2 L1869.5 838.0 L1869.8 840.1 L1870.1 842.2 L1870.4 844.4 L1870.8 846.6 L1871.1 848.9 L1871.4 851.3 L1871.7 853.8 L1872.0 856.5 L1872.5 860.6 L1872.9 865.0 L1873.4 869.7 L1873.9 874.5 L1874.4 879.5 L1874.9 884.5 L1875.3 889.4 L1875.8 894.2 L1876.3 898.9 L1876.7 903.6 L1877.2 908.3 L1877.6 913.0 L1878.1 917.7 L1878.6 922.4 L1879.0 927.1 L1879.5 931.8 L1880.0 936.6 L1880.5 941.6 L1880.9 946.7 L1881.4 951.7 L1881.9 956.6 L1882.4 961.2 L1882.8 965.6 L1883.3 969.5 L1883.6 971.8 L1883.9 973.9 L1884.1 975.9 L1884.4 977.8 L1884.7 979.6 L1884.9 981.4 L1885.2 983.2 L1885.5 985.0 L1885.7 986.6 L1886.0 988.1 L1886.2 989.7 L1886.5 991.1 L1886.7 992.6 L1887.0 994.1 L1887.2 995.6 L1887.5 997.0 L1887.7 998.4 L1888.0 999.7 L1888.2 1001.0 L1888.5 1002.4 L1888.7 1003.7 L1889.0 1005.0 L1889.2 1006.2 L1889.5 1007.5 L1889.8 1009.0 L1890.1 1010.5 L1890.4 1012.0 L1890.7 1013.4 L1891.1 1014.8 L1891.5 1016.0 L1892.1 1017.3 L1892.7 1018.5 L1893.4 1019.5 L1894.0 1020.5 L1894.6 1021.4 L1895.2 1022.2 L1896.0 1023.0 L1896.8 1023.7 L1897.8 1024.5 L1898.9 1025.3 L1900.0 1026.1 L1901.0 1027.0 L1902.0 1028.1 L1903.0 1029.3 L1903.9 1030.5 L1904.9 1031.6 L1906.0 1032.5 L1907.1 1033.2 L1908.4 1033.7 L1909.6 1034.2 L1910.9 1034.6 L1912.0 1035.0 L1913.4 1035.6 L1914.7 1036.2 L1916.0 1036.5 L1917.3 1036.5 L1918.6 1036.3 L1920.0 1036.0 L1921.2 1035.7 L1922.5 1035.4 L1923.7 1035.2 L1925.0 1035.0 L1926.2 1035.0 L1927.5 1035.2 L1928.7 1035.3 L1930.0 1035.5" fill="none" stroke="#000" stroke-width="4.8" stroke-linejoin="round" stroke-linecap="butt"/>
<path d="M271.0 1032.8 L272.0 1033.0 L273.0 1033.2 L274.0 1033.4 L275.0 1033.5 L276.0 1033.7 L277.0 1033.9 L278.0 1033.7 L279.0 1033.5 L280.0 1033.3 L281.0 1033.2 L282.0 1033.0 L283.0 1032.8 L284.0 1033.0 L285.0 1033.2 L286.0 1033.4 L287.0 1033.6 L288.0 1033.8 L289.0 1034.0 L290.0 1033.8 L291.0 1033.7 L292.0 1033.6 L293.0 1033.5 L294.0 1033.4 L295.0 1033.3 L296.0 1033.3 L297.0 1033.3 L298.0 1033.5 L299.0 1033.8 L300.0 1034.5 L301.0 1035.0 L302.0 1034.6 L303.0 1034.0 L304.0 1033.7 L305.0 1033.6 L306.0 1033.7 L307.0 1033.7 L308.0 1033.6 L309.0 1033.6 L310.0 1033.5 L311.0 1033.4 L312.0 1033.4 L313.0 1033.4 L314.0 1033.8 L315.0 1034.7 L316.0 1035.1 L317.0 1034.5 L318.0 1033.6 L319.0 1033.1 L320.0 1032.9 L321.0 1032.9 L322.0 1032.9 L323.0 1032.8 L324.0 1032.8 L325.0 1032.8 L326.0 1032.8 L327.0 1032.7 L328.0 1032.7 L329.0 1032.7 L330.0 1033.9 L331.0 1033.7 L332.0 1033.4 L333.0 1033.2 L334.0 1033.0 L335.0 1032.8 L336.0 1032.4 L337.0 1031.4 L338.0 1030.4 L339.0 1030.0 L340.0 1031.8 L341.0 1034.1 L342.0 1034.9 L343.0 1034.2 L344.0 1033.2 L345.0 1032.8 L346.0 1032.2 L347.0 1031.2 L348.0 1030.5 L349.0 1031.1 L350.0 1032.3 L351.0 1033.2 L352.0 1034.5 L353.0 1035.2 L354.0 1034.7 L355.0 1033.2 L356.0 1031.8 L357.0 1031.7 L358.0 1032.6 L359.0 1033.8 L360.0 1034.9 L361.0 1035.5 L362.0 1034.9 L363.0 1033.8 L364.0 1033.1 L365.0 1032.7 L366.0 1032.7 L367.0 1032.7 L368.0 1032.8 L369.0 1032.8 L370.0 1032.7 L371.0 1032.7 L372.0 1032.7 L373.0 1032.7 L374.0 1032.8 L375.0 1032.8 L376.0 1032.8 L377.0 1032.7 L378.0 1032.6 L379.0 1032.4 L380.0 1032.4 L381.0 1032.5 L382.0 1032.5 L383.0 1032.8 L384.0 1033.3 L385.0 1033.8 L386.0 1034.4 L387.0 1034.3 L388.0 1033.8 L389.0 1032.9 L390.0 1032.3 L391.0 1033.0 L392.0 1034.7 L393.0 1035.4 L394.0 1034.5 L395.0 1032.6 L396.0 1030.9 L397.0 1030.2 L398.0 1030.9 L399.0 1031.9 L400.0 1033.7 L401.0 1033.9 L402.0 1034.0 L403.0 1034.0 L404.0 1033.8 L405.0 1033.2 L406.0 1032.5 L407.0 1031.9 L408.0 1032.4 L409.0 1032.8 L410.0 1033.3 L411.0 1033.3 L412.0 1032.8 L413.0 1032.3 L414.0 1031.9 L415.0 1032.3 L416.0 1032.7 L417.0 1033.1 L418.0 1033.4 L419.0 1033.5 L420.0 1033.6 L421.0 1033.7 L422.0 1033.9 L423.0 1034.2 L424.0 1034.5 L425.0 1034.3 L426.0 1033.8 L427.0 1033.2 L428.0 1032.6 L429.0 1033.0 L430.0 1033.5 L431.0 1033.9 L432.0 1034.2 L433.0 1034.2 L434.0 1034.3 L435.0 1034.3 L436.0 1034.4 L437.0 1034.4 L438.0 1034.4 L439.0 1034.1 L440.0 1033.4 L441.0 1032.6 L442.0 1031.9 L443.0 1032.3 L444.0 1032.6 L445.0 1033.0 L446.0 1033.4 L447.0 1033.8 L448.0 1034.2 L449.0 1034.6 L450.0 1034.2 L451.0 1033.7 L452.0 1033.2 L453.0 1033.2 L454.0 1033.5 L455.0 1033.8 L456.0 1034.2 L457.0 1033.9 L458.0 1033.7 L459.0 1033.5 L460.0 1033.5 L461.0 1033.7 L462.0 1033.9 L463.0 1034.0 L464.0 1033.8 L465.0 1033.6 L466.0 1033.3 L467.0 1033.1 L468.0 1032.7 L469.0 1032.3 L470.0 1032.0 L471.0 1032.0 L472.0 1032.0 L473.0 1032.1 L474.0 1032.1 L475.0 1032.1 L476.0 1032.2 L477.0 1032.2 L478.0 1032.3 L479.0 1032.4 L480.0 1032.5 L481.0 1032.9 L482.0 1033.4 L483.0 1034.0 L484.0 1034.6 L485.0 1034.3 L486.0 1034.0 L487.0 1033.8 L488.0 1033.7 L489.0 1033.9 L490.0 1034.0 L491.0 1034.2 L492.0 1034.0 L493.0 1033.8 L494.0 1033.6 L495.0 1033.5 L496.0 1033.5 L497.0 1033.6 L498.0 1033.7 L499.0 1033.8 L500.0 1033.9 L501.0 1034.1 L502.0 1034.2 L503.0 1034.3 L504.0 1034.4 L505.0 1034.5 L506.0 1034.5 L507.0 1034.4 L508.0 1034.4 L509.0 1034.4 L510.0 1034.3 L511.0 1034.3 L512.0 1034.2 L513.0 1033.6 L514.0 1033.0 L515.0 1032.4 L516.0 1032.2 L517.0 1032.5 L518.0 1032.7 L519.0 1032.9 L520.0 1032.6 L521.0 1032.4 L522.0 1032.1 L523.0 1032.2 L524.0 1032.6 L525.0 1033.0 L526.0 1033.4 L527.0 1033.6 L528.0 1033.8 L529.0 1034.0 L530.0 1032.8 L531.0 1032.8 L532.0 1032.9 L533.0 1032.9 L534.0 1033.0 L535.0 1033.1 L536.0 1033.0 L537.0 1033.0 L538.0 1032.9 L539.0 1032.9 L540.0 1032.9 L541.0 1033.0 L542.0 1033.2 L543.0 1033.4 L544.0 1033.6 L545.0 1033.7 L546.0 1033.6 L547.0 1033.5 L548.0 1033.3 L549.0 1033.2 L550.0 1033.0 L551.0 1033.1 L552.0 1033.2 L553.0 1033.3 L554.0 1033.4 L555.0 1033.5 L556.0 1033.4 L557.0 1033.4 L558.0 1033.3 L559.0 1033.3 L560.0 1033.3 L561.0 1033.3 L562.0 1033.3 L563.0 1033.3 L564.0 1033.4 L565.0 1033.4 L566.0 1033.5 L567.0 1033.6 L568.0 1033.7 L569.0 1033.9 L570.0 1034.0 L571.0 1034.0 L572.0 1034.0 L573.0 1034.0 L574.0 1034.0 L575.0 1034.0 L576.0 1033.7 L577.0 1033.4 L578.0 1033.2 L579.0 1032.9 L580.0 1032.6 L581.0 1032.9 L582.0 1033.1 L583.0 1033.3 L584.0 1033.6 L585.0 1033.8 L586.0 1033.7 L587.0 1033.5 L588.0 1033.3 L589.0 1033.2 L590.0 1033.0 L591.0 1032.9 L592.0 1032.9 L593.0 1032.8 L594.0 1032.7 L595.0 1032.6 L596.0 1032.7 L597.0 1032.8 L598.0 1032.9 L599.0 1033.0 L600.0 1033.1 L601.0 1033.1 L602.0 1033.2 L603.0 1033.2 L604.0 1033.2 L605.0 1033.3 L606.0 1033.4 L607.0 1033.6 L608.0 1033.7 L609.0 1033.8 L610.0 1034.0 L611.0 1033.8 L612.0 1033.6 L613.0 1033.4 L614.0 1033.2 L615.0 1033.0 L616.0 1032.9 L617.0 1032.8 L618.0 1032.7 L619.0 1032.6 L620.0 1032.5 L621.0 1032.7 L622.0 1033.0 L623.0 1033.3 L624.0 1033.6 L625.0 1033.8 L626.0 1033.6 L627.0 1033.3 L628.0 1033.1 L629.0 1032.9 L630.0 1032.6 L631.0 1032.7 L632.0 1032.9 L633.0 1033.0 L634.0 1033.1 L635.0 1033.2 L636.0 1033.3 L637.0 1033.5 L638.0 1033.6 L639.0 1033.7 L640.0 1033.8 L641.0 1033.7 L642.0 1033.6 L643.0 1033.5 L644.0 1033.4 L645.0 1033.3 L646.0 1033.2 L647.0 1033.2 L648.0 1033.2 L649.0 1033.2 L650.0 1033.2 L651.0 1033.3 L652.0 1033.4 L653.0 1033.5 L654.0 1033.6 L655.0 1033.7 L656.0 1033.5 L657.0 1033.2 L658.0 1033.0 L659.0 1032.7 L660.0 1032.5 L661.0 1032.6 L662.0 1032.8 L663.0 1033.0 L664.0 1033.2 L665.0 1033.4 L666.0 1033.3 L667.0 1033.2 L668.0 1033.2 L669.0 1033.1 L670.0 1033.1 L671.0 1033.3 L672.0 1033.5 L673.0 1033.6 L674.0 1033.8 L675.0 1034.0 L676.0 1033.9 L677.0 1033.9 L678.0 1033.8 L679.0 1033.8 L680.0 1033.7 L681.0 1033.5 L682.0 1033.2 L683.0 1033.0 L684.0 1032.7 L685.0 1032.5 L686.0 1032.5 L687.0 1032.6 L688.0 1032.6 L689.0 1032.7 L690.0 1032.7 L691.0 1032.8 L692.0 1032.9 L693.0 1033.0 L694.0 1033.0 L695.0 1033.1 L696.0 1033.2 L697.0 1033.3 L698.0 1033.4 L699.0 1033.4 L700.0 1033.5 L701.0 1033.4 L702.0 1033.3 L703.0 1033.2 L704.0 1033.0 L705.0 1032.9 L706.0 1032.9 L707.0 1032.9 L708.0 1032.9 L709.0 1033.0 L710.0 1033.0 L711.0 1033.1 L712.0 1033.3 L713.0 1033.5 L714.0 1033.7 L715.0 1033.8 L716.0 1033.9 L717.0 1033.9 L718.0 1033.9 L719.0 1033.9 L720.0 1033.9 L721.0 1033.7 L722.0 1033.5 L723.0 1033.3 L724.0 1033.2 L725.0 1033.0 L726.0 1033.1 L727.0 1033.3 L728.0 1033.4 L729.0 1033.6 L730.0 1033.8 L731.0 1033.6 L732.0 1033.4 L733.0 1033.2 L734.0 1033.0 L735.0 1032.8 L736.0 1032.7 L737.0 1032.6 L738.0 1032.6 L739.0 1032.5 L740.0 1032.4 L741.0 1032.5 L742.0 1032.6 L743.0 1032.8 L744.0 1032.9 L745.0 1033.0 L746.0 1033.1 L747.0 1033.1 L748.0 1033.1 L749.0 1033.1 L750.0 1033.2 L751.0 1033.2 L752.0 1033.3 L753.0 1033.3 L754.0 1033.3 L755.0 1033.4 L756.0 1033.4 L757.0 1033.4 L758.0 1033.3 L759.0 1033.3 L760.0 1032.7 L761.0 1032.7 L762.0 1032.6 L763.0 1032.5 L764.0 1032.4 L765.0 1032.3 L766.0 1032.1 L767.0 1032.0 L768.0 1031.8 L769.0 1031.5 L770.0 1031.2 L770.5 1031.1 L771.0 1030.9 L771.5 1030.6 L772.0 1030.3 L772.5 1030.0 L773.0 1029.6 L773.5 1029.2 L774.0 1028.7 L774.5 1028.0 L775.0 1027.3 L775.5 1026.5 L776.0 1025.5 L776.5 1024.4 L777.0 1023.1 L777.5 1021.7 L778.0 1020.1 L778.5 1018.4 L779.0 1016.6 L779.5 1014.7 L780.0 1012.8 L780.5 1011.0 L781.0 1009.3 L781.5 1008.0 L782.0 1007.2 L782.5 1006.9 L783.0 1007.2 L783.5 1008.0 L784.0 1009.3 L784.5 1011.0 L785.0 1012.8 L785.5 1014.7 L786.0 1016.6 L786.5 1018.4 L787.0 1020.1 L787.5 1021.7 L788.0 1023.1 L788.5 1024.4 L789.0 1025.5 L789.5 1026.5 L790.0 1027.3 L790.5 1028.1 L791.0 1028.7 L791.5 1029.2 L792.0 1029.7 L792.5 1030.0 L793.0 1030.4 L793.5 1030.7 L794.0 1030.9 L794.5 1031.1 L795.0 1031.3 L795.5 1031.5 L796.0 1031.6 L797.0 1031.9 L798.0 1032.1 L799.0 1032.3 L800.0 1032.4 L801.0 1032.5 L802.0 1032.5 L803.0 1032.6 L804.0 1032.6 L805.0 1032.6 L806.0 1032.6 L807.0 1032.6 L808.0 1032.6 L809.0 1032.6 L810.0 1032.6 L811.0 1032.6 L812.0 1032.6 L813.0 1032.6 L814.0 1032.6 L815.0 1032.6 L816.0 1032.6 L817.0 1032.6 L818.0 1032.7 L819.0 1032.7 L820.0 1032.7 L821.0 1032.7 L822.0 1032.8 L823.0 1032.8 L824.0 1032.8 L825.0 1032.8 L826.0 1032.8 L827.0 1032.8 L828.0 1032.9 L829.0 1032.9 L830.0 1032.9 L831.0 1032.9 L832.0 1032.9 L833.0 1032.9 L834.0 1032.9 L835.0 1032.9 L836.0 1032.9 L837.0 1033.0 L838.0 1033.0 L839.0 1033.0 L840.0 1033.0 L841.0 1033.0 L842.0 1033.1 L843.0 1033.1 L844.0 1033.2 L845.0 1033.2 L846.0 1033.3 L847.0 1033.3 L848.0 1033.3 L849.0 1033.3 L850.0 1033.2 L851.0 1033.1 L852.0 1033.1 L853.0 1033.0 L854.0 1033.0 L855.0 1032.9 L856.0 1032.8 L857.0 1032.9 L858.0 1032.9 L859.0 1032.9 L860.0 1033.0 L861.0 1033.0 L862.0 1033.0 L863.0 1033.1 L864.0 1033.1 L865.0 1033.1 L866.0 1033.2 L867.0 1033.2 L868.0 1033.2 L869.0 1033.3 L870.0 1033.3 L871.0 1033.3 L872.0 1033.4 L873.0 1033.3 L874.0 1033.3 L875.0 1033.2 L876.0 1033.2 L877.0 1033.1 L878.0 1033.1 L879.0 1033.0 L880.0 1033.0 L881.0 1033.0 L882.0 1033.0 L883.0 1032.9 L884.0 1032.9 L885.0 1032.9 L886.0 1032.9 L887.0 1032.9 L888.0 1032.8 L889.0 1032.9 L890.0 1032.9 L891.0 1032.9 L892.0 1032.9 L893.0 1032.9 L894.0 1032.9 L895.0 1033.0 L896.0 1033.0 L897.0 1033.0 L898.0 1032.9 L899.0 1032.9 L900.0 1032.9 L901.0 1032.9 L902.0 1032.9 L903.0 1032.9 L904.0 1032.9 L905.0 1032.9 L906.0 1033.0 L907.0 1033.0 L908.0 1033.1 L909.0 1033.2 L910.0 1033.2 L911.0 1033.3 L912.0 1033.4 L913.0 1033.3 L914.0 1033.2 L915.0 1033.2 L916.0 1033.1 L917.0 1033.1 L918.0 1033.0 L919.0 1033.0 L920.0 1032.9 L921.0 1032.9 L922.0 1032.9 L923.0 1032.9 L924.0 1032.9 L925.0 1032.9 L926.0 1032.9 L927.0 1032.9 L928.0 1032.9 L929.0 1033.0 L930.0 1033.0 L931.0 1033.1 L932.0 1033.1 L933.0 1033.2 L934.0 1033.2 L935.0 1033.3 L936.0 1033.3 L937.0 1033.3 L938.0 1033.3 L939.0 1033.3 L940.0 1033.3 L941.0 1033.3 L942.0 1033.3 L943.0 1033.3 L944.0 1033.3 L945.0 1033.3 L946.0 1033.3 L947.0 1033.3 L948.0 1033.2 L949.0 1033.2 L950.0 1033.2 L951.0 1033.2 L952.0 1033.2 L953.0 1033.2 L954.0 1033.2 L955.0 1033.2 L956.0 1033.3 L957.0 1033.3 L958.0 1033.3 L959.0 1033.4 L960.0 1033.4 L961.0 1033.3 L962.0 1033.2 L963.0 1033.1 L964.0 1033.1 L965.0 1033.0 L966.0 1032.9 L967.0 1032.8 L968.0 1032.8 L969.0 1032.8 L970.0 1032.9 L971.0 1033.0 L972.0 1033.1 L973.0 1033.2 L974.0 1033.2 L975.0 1033.3 L976.0 1033.4 L977.0 1033.3 L978.0 1033.3 L979.0 1033.3 L980.0 1033.2 L981.0 1033.2 L982.0 1033.2 L983.0 1033.1 L984.0 1033.1 L985.0 1033.1 L986.0 1033.0 L987.0 1033.0 L988.0 1033.0 L989.0 1033.0 L990.0 1032.9 L991.0 1032.9 L992.0 1032.9 L993.0 1032.9 L994.0 1033.0 L995.0 1033.0 L996.0 1033.1 L997.0 1033.1 L998.0 1033.1 L999.0 1033.2 L1000.0 1033.2 L1001.0 1033.2 L1002.0 1033.2 L1003.0 1033.2 L1004.0 1033.1 L1005.0 1033.1 L1006.0 1033.1 L1007.0 1033.1 L1008.0 1033.1 L1009.0 1033.1 L1010.0 1033.1 L1011.0 1033.2 L1012.0 1033.2 L1013.0 1033.2 L1014.0 1033.2 L1015.0 1033.2 L1016.0 1033.3 L1017.0 1033.2 L1018.0 1033.1 L1019.0 1033.0 L1020.0 1032.9 L1021.0 1032.9 L1022.0 1032.8 L1023.0 1032.7 L1024.0 1032.6 L1025.0 1032.7 L1026.0 1032.7 L1027.0 1032.7 L1028.0 1032.8 L1029.0 1032.8 L1030.0 1032.8 L1031.0 1032.9 L1032.0 1032.9 L1033.0 1032.9 L1034.0 1032.9 L1035.0 1032.9 L1036.0 1032.8 L1037.0 1032.8 L1038.0 1032.8 L1039.0 1032.8 L1040.0 1032.8 L1041.0 1032.8 L1042.0 1032.8 L1043.0 1032.8 L1044.0 1032.8 L1045.0 1032.8 L1046.0 1032.8 L1047.0 1032.8 L1048.0 1032.8 L1049.0 1032.8 L1050.0 1032.8 L1051.0 1032.7 L1052.0 1032.7 L1053.0 1032.6 L1054.0 1032.6 L1055.0 1032.5 L1056.0 1032.5 L1057.0 1032.5 L1058.0 1032.4 L1059.0 1032.4 L1060.0 1032.4 L1061.0 1032.3 L1062.0 1032.3 L1063.0 1032.3 L1064.0 1032.3 L1065.0 1032.3 L1066.0 1032.3 L1067.0 1032.4 L1068.0 1032.4 L1069.0 1032.4 L1070.0 1032.4 L1071.0 1032.5 L1072.0 1032.5 L1073.0 1032.5 L1074.0 1032.4 L1075.0 1032.7 L1076.0 1032.6 L1077.0 1032.5 L1078.0 1032.3 L1079.0 1032.4 L1080.0 1032.5 L1081.0 1033.2 L1082.0 1034.6 L1083.0 1035.9 L1084.0 1036.0 L1085.0 1034.5 L1086.0 1032.8 L1087.0 1031.6 L1088.0 1031.5 L1089.0 1032.0 L1090.0 1032.4 L1091.0 1032.4 L1092.0 1032.3 L1093.0 1032.3 L1094.0 1032.2 L1095.0 1032.1 L1096.0 1031.9 L1097.0 1031.8 L1098.0 1031.7 L1099.0 1031.6 L1100.0 1031.9 L1101.0 1031.9 L1102.0 1031.8 L1103.0 1031.8 L1104.0 1031.8 L1105.0 1031.7 L1106.0 1031.7 L1107.0 1031.6 L1108.0 1031.6 L1109.0 1031.5 L1110.0 1031.5 L1111.0 1031.4 L1112.0 1031.4 L1113.0 1031.3 L1114.0 1031.3 L1115.0 1031.2 L1116.0 1031.2 L1117.0 1031.1 L1118.0 1031.0 L1119.0 1031.0 L1120.0 1030.9 L1121.0 1030.8 L1122.0 1030.7 L1123.0 1030.5 L1124.0 1030.4 L1125.0 1030.3 L1126.0 1030.1 L1127.0 1030.0 L1128.0 1029.8 L1129.0 1029.6 L1130.0 1029.5 L1131.0 1029.3 L1132.0 1029.2 L1133.0 1029.0 L1134.0 1028.9 L1135.0 1028.7 L1136.0 1028.5 L1137.0 1028.3 L1138.0 1028.1 L1139.0 1027.8 L1140.0 1027.6 L1141.0 1027.3 L1142.0 1027.0 L1143.0 1026.7 L1144.0 1026.3 L1145.0 1025.9 L1146.0 1025.5 L1147.0 1025.0 L1148.0 1024.4 L1149.0 1023.8 L1150.0 1023.1 L1150.5 1022.7 L1151.0 1022.2 L1151.5 1021.8 L1152.0 1021.3 L1152.5 1020.7 L1153.0 1020.1 L1153.5 1019.5 L1154.0 1018.8 L1154.5 1018.1 L1155.0 1017.3 L1155.5 1016.5 L1156.0 1015.5 L1156.5 1014.5 L1157.0 1013.5 L1157.5 1012.3 L1158.0 1011.0 L1158.5 1009.7 L1159.0 1008.2 L1159.5 1006.7 L1160.0 1005.0 L1160.5 1003.2 L1161.0 1001.3 L1161.5 999.2 L1162.0 997.0 L1162.5 994.7 L1163.0 992.2 L1163.5 989.6 L1164.0 986.9 L1164.5 984.0 L1165.0 980.9 L1165.5 977.7 L1166.0 974.3 L1166.5 970.8 L1167.0 967.2 L1167.5 963.4 L1168.0 959.5 L1168.5 955.4 L1169.0 951.3 L1169.5 947.1 L1170.0 942.7 L1170.5 938.3 L1171.0 933.9 L1171.5 929.4 L1172.0 925.0 L1172.5 920.5 L1173.0 916.2 L1173.5 911.9 L1174.0 907.7 L1174.5 903.7 L1175.0 899.9 L1175.5 896.4 L1176.0 893.1 L1176.5 890.2 L1177.0 887.7 L1177.5 885.6 L1178.0 883.9 L1178.5 882.7 L1179.0 882.0 L1179.5 881.8 L1180.0 882.1 L1180.5 883.0 L1181.0 884.3 L1181.5 886.2 L1182.0 888.6 L1182.5 891.3 L1183.0 894.5 L1183.5 898.0 L1184.0 901.8 L1184.5 905.9 L1185.0 910.2 L1185.5 914.7 L1186.0 919.3 L1186.5 924.1 L1187.0 928.8 L1187.5 933.6 L1188.0 938.4 L1188.5 943.2 L1189.0 947.9 L1189.5 952.6 L1190.0 957.1 L1190.5 961.5 L1191.0 965.8 L1191.5 969.9 L1192.0 973.9 L1192.5 977.8 L1193.0 981.4 L1193.5 984.9 L1194.0 988.2 L1194.5 991.3 L1195.0 994.3 L1195.5 997.0 L1196.0 999.6 L1196.5 1002.1 L1197.0 1004.3 L1197.5 1006.4 L1198.0 1008.4 L1198.5 1010.2 L1199.0 1011.8 L1199.5 1013.4 L1200.0 1014.8 L1200.5 1016.1 L1201.0 1017.2 L1201.5 1018.3 L1202.0 1019.3 L1202.5 1020.2 L1203.0 1021.0 L1203.5 1021.8 L1204.0 1022.4 L1204.5 1023.1 L1205.0 1023.6 L1205.5 1024.1 L1206.0 1024.6 L1206.5 1025.0 L1207.0 1025.4 L1207.5 1025.8 L1208.0 1026.1 L1208.5 1026.4 L1209.0 1026.6 L1209.5 1026.9 L1210.0 1027.1 L1211.0 1027.6 L1212.0 1027.9 L1213.0 1028.3 L1214.0 1028.5 L1215.0 1028.8 L1216.0 1029.0 L1217.0 1029.3 L1218.0 1029.5 L1219.0 1029.6 L1220.0 1029.8 L1221.0 1030.0 L1222.0 1030.1 L1223.0 1030.2 L1224.0 1030.3 L1225.0 1030.4 L1226.0 1030.6 L1227.0 1030.6 L1228.0 1030.7 L1229.0 1030.8 L1230.0 1030.9 L1231.0 1031.0 L1232.0 1031.1 L1233.0 1031.2 L1234.0 1031.2 L1235.0 1031.3 L1236.0 1031.4 L1237.0 1031.5 L1238.0 1031.5 L1239.0 1031.6 L1240.0 1031.6 L1241.0 1031.7 L1242.0 1031.8 L1243.0 1031.8 L1244.0 1031.9 L1245.0 1031.9 L1246.0 1032.0 L1247.0 1032.0 L1248.0 1032.1 L1249.0 1032.1 L1250.0 1032.3 L1251.0 1032.5 L1252.0 1032.6 L1253.0 1032.8 L1254.0 1033.0 L1255.0 1033.2 L1256.0 1033.0 L1257.0 1032.9 L1258.0 1032.8 L1259.0 1032.6 L1260.0 1032.5 L1261.0 1032.5 L1262.0 1032.5 L1263.0 1032.5 L1264.0 1032.6 L1265.0 1032.6 L1266.0 1032.6 L1267.0 1032.7 L1268.0 1032.7 L1269.0 1032.8 L1270.0 1032.8 L1271.0 1032.9 L1272.0 1032.9 L1273.0 1033.0 L1274.0 1033.0 L1275.0 1033.0 L1276.0 1033.0 L1277.0 1033.0 L1278.0 1033.0 L1279.0 1032.9 L1280.0 1032.9 L1281.0 1032.9 L1282.0 1032.9 L1283.0 1032.9 L1284.0 1032.9 L1285.0 1032.9 L1286.0 1032.9 L1287.0 1032.9 L1288.0 1033.0 L1289.0 1033.0 L1290.0 1033.0 L1291.0 1032.9 L1292.0 1032.8 L1293.0 1032.7 L1294.0 1032.7 L1295.0 1032.6 L1296.0 1032.7 L1297.0 1032.9 L1298.0 1033.1 L1299.0 1033.2 L1300.0 1033.4 L1301.0 1033.3 L1302.0 1033.3 L1303.0 1033.2 L1304.0 1033.1 L1305.0 1033.1 L1306.0 1033.0 L1307.0 1032.9 L1308.0 1032.8 L1309.0 1032.7 L1310.0 1032.6 L1311.0 1032.6 L1312.0 1032.6 L1313.0 1032.5 L1314.0 1032.5 L1315.0 1032.5 L1316.0 1032.4 L1317.0 1032.4 L1318.0 1032.3 L1319.0 1032.3 L1320.0 1032.2 L1321.0 1032.3 L1322.0 1032.4 L1323.0 1032.5 L1324.0 1032.6 L1325.0 1032.7 L1326.0 1032.6 L1327.0 1032.5 L1328.0 1032.4 L1329.0 1032.3 L1330.0 1032.1 L1331.0 1032.2 L1332.0 1032.3 L1333.0 1032.3 L1334.0 1032.4 L1335.0 1032.4 L1336.0 1032.4 L1337.0 1032.4 L1338.0 1032.3 L1339.0 1032.3 L1340.0 1032.3 L1341.0 1032.3 L1342.0 1032.4 L1343.0 1032.5 L1344.0 1032.6 L1345.0 1032.7 L1346.0 1032.7 L1347.0 1032.7 L1348.0 1032.7 L1349.0 1032.8 L1350.0 1032.8 L1351.0 1032.9 L1352.0 1033.0 L1353.0 1033.1 L1354.0 1033.2 L1355.0 1033.2 L1356.0 1033.3 L1357.0 1033.4 L1358.0 1033.4 L1359.0 1033.5 L1360.0 1033.6 L1361.0 1033.5 L1362.0 1033.5 L1363.0 1033.4 L1364.0 1033.4 L1365.0 1033.3 L1366.0 1033.2 L1367.0 1033.0 L1368.0 1032.8 L1369.0 1032.7 L1370.0 1032.5 L1371.0 1032.8 L1372.0 1033.0 L1373.0 1033.3 L1374.0 1033.6 L1375.0 1033.8 L1376.0 1033.8 L1377.0 1033.7 L1378.0 1033.6 L1379.0 1033.6 L1380.0 1033.5 L1381.0 1033.4 L1382.0 1033.4 L1383.0 1033.3 L1384.0 1033.2 L1385.0 1033.1 L1386.0 1033.2 L1387.0 1033.2 L1388.0 1033.3 L1389.0 1033.3 L1390.0 1033.4 L1391.0 1033.3 L1392.0 1033.3 L1393.0 1033.2 L1394.0 1033.2 L1395.0 1033.1 L1396.0 1033.0 L1397.0 1032.9 L1398.0 1032.8 L1399.0 1032.7 L1400.0 1032.5 L1401.0 1032.7 L1402.0 1032.9 L1403.0 1033.1 L1404.0 1033.2 L1405.0 1033.4 L1406.0 1033.5 L1407.0 1033.6 L1408.0 1033.8 L1409.0 1033.9 L1410.0 1034.0 L1411.0 1033.9 L1412.0 1033.9 L1413.0 1033.8 L1414.0 1033.7 L1415.0 1033.6 L1416.0 1033.4 L1417.0 1033.2 L1418.0 1033.0 L1419.0 1032.8 L1420.0 1032.6 L1421.0 1032.6 L1422.0 1032.5 L1423.0 1032.5 L1424.0 1032.5 L1425.0 1032.5 L1426.0 1032.8 L1427.0 1033.1 L1428.0 1033.4 L1429.0 1033.8 L1430.0 1034.4 L1431.0 1035.0 L1432.0 1035.8 L1433.0 1036.1 L1434.0 1035.7 L1435.0 1035.0 L1436.0 1034.3 L1437.0 1033.9 L1438.0 1033.7 L1439.0 1033.7 L1440.0 1033.6 L1441.0 1033.6 L1442.0 1033.6 L1443.0 1033.6 L1444.0 1033.6 L1445.0 1033.6 L1446.0 1033.4 L1447.0 1033.2 L1448.0 1032.9 L1449.0 1032.7 L1450.0 1032.5 L1451.0 1032.7 L1452.0 1033.0 L1453.0 1033.2 L1454.0 1033.5 L1455.0 1033.7 L1456.0 1033.5 L1457.0 1033.3 L1458.0 1033.0 L1459.0 1032.8 L1460.0 1032.6 L1461.0 1032.6 L1462.0 1032.6 L1463.0 1032.5 L1464.0 1032.5 L1465.0 1032.5 L1466.0 1032.6 L1467.0 1032.7 L1468.0 1032.8 L1469.0 1032.9 L1470.0 1033.0 L1471.0 1032.8 L1472.0 1032.7 L1473.0 1032.5 L1474.0 1032.4 L1475.0 1032.2 L1476.0 1032.5 L1477.0 1032.8 L1478.0 1033.1 L1479.0 1033.4 L1480.0 1033.7 L1481.0 1033.5 L1482.0 1033.2 L1483.0 1033.0 L1484.0 1032.8 L1485.0 1032.5 L1486.0 1032.7 L1487.0 1032.9 L1488.0 1033.1 L1489.0 1033.3 L1490.0 1033.5 L1491.0 1033.5 L1492.0 1033.4 L1493.0 1033.4 L1494.0 1033.3 L1495.0 1033.2 L1496.0 1033.3 L1497.0 1033.4 L1498.0 1033.4 L1499.0 1033.5 L1500.0 1033.6 L1501.0 1033.5 L1502.0 1033.4 L1503.0 1033.4 L1504.0 1033.3 L1505.0 1033.2 L1506.0 1033.4 L1507.0 1033.5 L1508.0 1033.6 L1509.0 1033.7 L1510.0 1033.9 L1511.0 1033.7 L1512.0 1033.4 L1513.0 1033.2 L1514.0 1033.0 L1515.0 1032.8 L1516.0 1032.8 L1517.0 1032.9 L1518.0 1032.9 L1519.0 1032.9 L1520.0 1033.0 L1521.0 1032.9 L1522.0 1032.8 L1523.0 1032.8 L1524.0 1032.7 L1525.0 1032.6 L1526.0 1032.7 L1527.0 1032.9 L1528.0 1033.0 L1529.0 1033.1 L1530.0 1033.2 L1531.0 1033.1 L1532.0 1032.9 L1533.0 1032.7 L1534.0 1032.5 L1535.0 1032.3 L1536.0 1032.4 L1537.0 1032.5 L1538.0 1032.6 L1539.0 1032.6 L1540.0 1032.6 L1540.5 1032.4 L1541.0 1032.1 L1541.5 1031.8 L1542.0 1031.5 L1542.5 1031.2 L1543.0 1030.8 L1543.5 1030.4 L1544.0 1030.0 L1544.5 1029.5 L1545.0 1029.0 L1545.5 1028.6 L1546.0 1028.1 L1546.5 1027.6 L1547.0 1027.1 L1547.5 1026.5 L1548.0 1025.9 L1548.5 1025.3 L1549.0 1024.6 L1549.5 1024.0 L1550.0 1023.3 L1550.5 1022.7 L1551.0 1022.1 L1551.5 1021.5 L1552.0 1020.9 L1552.5 1020.5 L1553.0 1020.1 L1553.5 1019.8 L1554.0 1019.6 L1554.5 1019.6 L1555.0 1019.7 L1555.5 1019.8 L1556.0 1020.0 L1556.5 1020.3 L1557.0 1020.7 L1557.5 1021.2 L1558.0 1021.7 L1558.5 1022.3 L1559.0 1022.9 L1559.5 1023.5 L1560.0 1024.1 L1560.5 1024.8 L1561.0 1025.5 L1561.5 1026.1 L1562.0 1026.8 L1562.5 1027.3 L1563.0 1027.9 L1563.5 1028.4 L1564.0 1028.8 L1564.5 1029.2 L1565.0 1029.6 L1565.5 1030.0 L1566.0 1030.4 L1566.5 1030.8 L1567.0 1031.1 L1567.5 1031.4 L1568.0 1031.7 L1568.5 1031.9 L1569.0 1032.2 L1569.5 1032.4 L1570.0 1032.6 L1571.0 1032.5 L1572.0 1032.4 L1573.0 1032.3 L1574.0 1032.2 L1575.0 1032.1 L1576.0 1032.0 L1577.0 1032.0 L1578.0 1031.9 L1579.0 1031.9 L1580.0 1031.8 L1581.0 1032.0 L1582.0 1032.2 L1583.0 1032.4 L1584.0 1032.6 L1585.0 1032.8 L1586.0 1032.7 L1587.0 1032.6 L1588.0 1032.5 L1589.0 1032.3 L1590.0 1032.2 L1591.0 1032.2 L1592.0 1032.1 L1593.0 1032.1 L1594.0 1032.1 L1595.0 1032.0 L1596.0 1032.0 L1597.0 1032.1 L1598.0 1032.1 L1600.0 1032.4 L1601.3 1032.2 L1602.6 1032.0 L1603.8 1031.8 L1605.0 1031.5 L1606.3 1031.0 L1607.6 1030.4 L1608.8 1029.5 L1609.6 1028.7 L1610.4 1027.7 L1611.1 1026.6 L1611.8 1025.6 L1612.5 1024.5 L1613.2 1023.5 L1613.9 1022.6 L1614.6 1021.6 L1615.3 1020.6 L1615.8 1019.4 L1616.2 1018.3 L1616.5 1017.1 L1616.7 1015.8 L1616.9 1014.5 L1617.1 1013.1 L1617.2 1011.7 L1617.3 1010.3 L1617.5 1009.0 L1617.7 1007.7 L1617.8 1006.3 L1617.9 1005.0 L1618.0 1003.6 L1618.1 1002.3 L1618.2 1000.9 L1618.3 999.5 L1618.4 998.0 L1618.5 996.2 L1618.6 994.4 L1618.7 992.5 L1618.8 990.6 L1618.9 988.7 L1619.1 986.8 L1619.2 984.9 L1619.3 983.0 L1619.4 981.1 L1619.6 979.3 L1619.7 977.4 L1619.9 975.6 L1620.1 973.7 L1620.2 971.8 L1620.4 969.9 L1620.5 968.0 L1620.6 965.8 L1620.8 963.6 L1620.9 961.3 L1621.0 959.0 L1621.1 956.7 L1621.2 954.5 L1621.3 952.2 L1621.4 950.0 L1621.5 948.0 L1621.6 946.1 L1621.7 944.3 L1621.8 942.4 L1621.9 940.5 L1622.0 938.6 L1622.1 936.5 L1622.2 934.3 L1622.3 931.0 L1622.5 927.3 L1622.6 923.5 L1622.8 919.6 L1622.9 915.6 L1623.1 911.5 L1623.2 907.5 L1623.4 903.6 L1623.6 899.8 L1623.8 896.1 L1624.0 892.4 L1624.2 888.7 L1624.4 885.0 L1624.6 881.1 L1624.8 877.1 L1625.0 872.9 L1625.2 867.1 L1625.4 860.7 L1625.5 854.1 L1625.7 847.3 L1625.8 840.6 L1625.9 834.0 L1626.1 827.7 L1626.2 822.0 L1626.3 818.0 L1626.4 814.1 L1626.5 810.3 L1626.6 806.7 L1626.7 803.2 L1626.7 799.8 L1626.8 796.6 L1626.9 793.5 L1627.0 791.4 L1627.0 789.3 L1627.1 787.4 L1627.1 785.5 L1627.1 783.7 L1627.2 781.9 L1627.2 780.2 L1627.3 778.5 L1627.4 776.9 L1627.4 775.4 L1627.5 773.9 L1627.5 772.4 L1627.6 771.0 L1627.6 769.7 L1627.7 768.5 L1627.8 766.9 L1627.8 765.3 L1627.9 764.0 L1628.0 763.5 L1628.1 764.0 L1628.2 765.3 L1628.3 766.9 L1628.4 768.5 L1628.5 769.7 L1628.5 771.0 L1628.6 772.4 L1628.6 773.9 L1628.7 775.4 L1628.8 776.9 L1628.8 778.5 L1628.8 780.2 L1628.9 781.9 L1628.9 783.7 L1629.0 785.5 L1629.0 787.4 L1629.0 789.3 L1629.1 791.4 L1629.1 793.5 L1629.2 796.6 L1629.2 799.8 L1629.3 803.2 L1629.3 806.7 L1629.4 810.3 L1629.4 814.1 L1629.5 818.0 L1629.5 822.0 L1629.6 827.7 L1629.6 834.0 L1629.6 840.6 L1629.7 847.3 L1629.7 854.1 L1629.7 860.7 L1629.8 867.1 L1629.9 872.9 L1630.0 877.1 L1630.1 881.1 L1630.2 885.0 L1630.3 888.7 L1630.5 892.4 L1630.6 896.1 L1630.7 899.8 L1630.8 903.6 L1630.9 907.4 L1631.0 911.3 L1631.0 915.1 L1631.1 918.9 L1631.1 922.8 L1631.2 926.6 L1631.3 930.5 L1631.4 934.3 L1631.5 938.2 L1631.7 942.1 L1631.8 946.0 L1632.0 949.9 L1632.2 953.8 L1632.4 957.7 L1632.5 961.5 L1632.7 965.3 L1632.8 968.7 L1633.0 972.2 L1633.1 975.6 L1633.2 979.0 L1633.4 982.3 L1633.6 985.6 L1633.8 988.8 L1634.0 991.8 L1634.2 994.2 L1634.4 996.6 L1634.7 998.9 L1634.9 1001.2 L1635.2 1003.4 L1635.5 1005.5 L1635.9 1007.5 L1636.2 1009.5 L1636.5 1011.0 L1636.8 1012.4 L1637.1 1013.9 L1637.4 1015.2 L1637.8 1016.6 L1638.1 1017.8 L1638.5 1018.9 L1638.9 1020.0 L1639.5 1021.3 L1640.1 1022.5 L1640.8 1023.5 L1641.5 1024.3 L1642.3 1025.0 L1643.2 1025.6 L1644.2 1025.8 L1645.2 1025.7 L1646.4 1025.3 L1647.6 1024.8 L1648.8 1024.1 L1650.0 1023.5 L1651.1 1022.9 L1652.2 1022.4 L1653.3 1021.7 L1654.4 1021.0 L1655.5 1020.2 L1656.5 1019.2 L1657.5 1018.0 L1658.5 1016.7 L1659.4 1015.3 L1660.3 1013.7 L1661.2 1012.0 L1662.0 1010.3 L1662.8 1008.6 L1663.6 1006.8 L1664.4 1004.6 L1665.2 1002.3 L1665.9 999.9 L1666.6 997.4 L1667.2 994.8 L1667.8 992.3 L1668.3 989.8 L1668.9 987.4 L1669.4 985.2 L1669.9 982.9 L1670.3 980.7 L1670.8 978.5 L1671.2 976.3 L1671.6 974.1 L1672.0 971.9 L1672.4 969.7 L1672.8 967.5 L1673.2 965.3 L1673.6 963.1 L1674.0 960.9 L1674.4 958.6 L1674.8 956.4 L1675.1 954.2 L1675.5 952.0 L1675.9 949.8 L1676.2 947.6 L1676.5 945.4 L1676.9 943.2 L1677.2 941.0 L1677.5 938.8 L1677.9 936.6 L1678.2 934.4 L1678.6 932.2 L1678.9 930.2 L1679.3 928.2 L1679.6 926.2 L1680.0 924.1 L1680.4 921.8 L1680.7 919.3 L1681.1 916.5 L1681.9 910.0 L1682.6 902.4 L1683.4 893.9 L1684.3 884.8 L1685.1 875.3 L1685.8 865.7 L1686.6 856.4 L1687.3 847.4 L1688.0 838.8 L1688.6 830.1 L1689.1 821.5 L1689.7 812.8 L1690.2 804.2 L1690.8 795.5 L1691.3 786.8 L1691.9 778.2 L1692.5 769.5 L1693.1 760.9 L1693.6 752.2 L1694.2 743.5 L1694.8 734.8 L1695.4 726.2 L1696.0 717.6 L1696.5 709.1 L1697.0 700.8 L1697.5 692.5 L1698.1 684.1 L1698.6 675.8 L1699.1 667.6 L1699.5 659.7 L1700.0 652.1 L1700.4 645.0 L1700.7 640.0 L1701.0 635.2 L1701.3 630.7 L1701.5 626.3 L1701.8 622.0 L1702.0 617.7 L1702.3 613.4 L1702.5 609.0 L1702.7 604.7 L1702.9 600.5 L1703.1 596.2 L1703.3 592.0 L1703.5 587.8 L1703.7 583.6 L1704.0 579.4 L1704.2 575.2 L1704.4 571.0 L1704.7 566.7 L1705.0 562.5 L1705.2 558.3 L1705.5 554.1 L1705.8 549.8 L1706.1 545.6 L1706.4 541.4 L1706.7 537.1 L1707.1 532.7 L1707.5 528.2 L1707.8 523.8 L1708.2 519.5 L1708.6 515.3 L1709.0 511.3 L1709.3 507.6 L1709.5 505.1 L1709.7 502.7 L1709.9 500.4 L1710.1 498.2 L1710.3 496.0 L1710.5 494.0 L1710.7 492.0 L1711.0 490.0 L1711.3 488.5 L1711.5 487.0 L1711.8 485.5 L1712.1 484.1 L1712.4 482.7 L1712.8 481.4 L1713.1 480.2 L1713.5 479.0 L1713.9 477.7 L1714.4 476.6 L1714.9 475.5 L1715.4 474.5 L1716.0 473.5 L1716.7 472.5 L1717.4 471.7 L1718.2 470.8 L1718.9 470.0 L1719.7 469.0 L1720.4 468.0 L1721.0 467.0 L1721.5 465.8 L1722.0 464.6 L1722.4 463.2 L1722.7 462.1 L1723.1 460.9 L1723.4 459.6 L1723.7 458.3 L1724.0 457.0 L1724.3 455.7 L1724.5 454.5 L1724.7 453.2 L1725.0 451.8 L1725.2 450.2 L1725.4 448.3 L1725.7 446.1 L1725.9 443.7 L1726.1 441.2 L1726.4 438.6 L1726.6 435.9 L1726.8 433.3 L1727.0 430.6 L1727.2 427.5 L1727.5 424.3 L1727.7 421.1 L1727.9 417.8 L1728.1 414.5 L1728.3 411.1 L1728.5 407.8 L1728.7 404.5 L1728.9 401.2 L1729.1 398.0 L1729.4 394.7 L1729.6 391.5 L1729.8 388.2 L1730.0 384.9 L1730.2 381.7 L1730.4 378.4 L1730.6 375.1 L1730.8 371.9 L1730.9 368.6 L1731.1 365.3 L1731.2 362.0 L1731.4 358.7 L1731.5 355.5 L1731.7 352.2 L1731.9 348.9 L1732.0 345.7 L1732.2 342.4 L1732.4 339.1 L1732.5 335.9 L1732.7 332.6 L1732.9 329.4 L1733.0 326.1 L1733.1 322.8 L1733.3 319.5 L1733.4 316.3 L1733.5 313.0 L1733.6 309.7 L1733.7 306.4 L1733.8 303.2 L1733.9 300.0 L1734.0 297.0 L1734.1 294.0 L1734.2 291.1 L1734.2 288.2 L1734.3 285.2 L1734.4 282.2 L1734.5 279.2 L1734.6 276.0 L1734.7 272.2 L1734.9 268.1 L1735.1 264.0 L1735.3 259.8 L1735.5 255.7 L1735.7 251.5 L1735.8 247.6 L1736.0 243.8 L1736.1 240.8 L1736.2 237.7 L1736.4 234.8 L1736.5 231.8 L1736.6 229.0 L1736.7 226.4 L1736.8 223.8 L1736.9 221.5 L1737.0 219.9 L1737.1 218.4 L1737.1 216.9 L1737.2 215.6 L1737.3 214.2 L1737.4 212.9 L1737.5 211.5 L1737.6 209.9 L1737.7 208.1 L1737.9 206.2 L1738.0 204.4 L1738.1 202.9 L1738.3 201.9 L1738.4 201.5 L1738.5 201.9 L1738.7 202.9 L1738.8 204.4 L1738.9 206.2 L1739.1 208.1 L1739.2 209.9 L1739.3 211.5 L1739.4 212.9 L1739.5 214.2 L1739.6 215.6 L1739.7 216.9 L1739.8 218.4 L1739.8 219.9 L1739.9 221.5 L1740.0 223.8 L1740.0 226.4 L1740.1 229.0 L1740.1 231.8 L1740.1 234.8 L1740.2 237.7 L1740.2 240.8 L1740.3 243.8 L1740.4 247.6 L1740.6 251.5 L1740.8 255.7 L1741.0 259.8 L1741.2 264.0 L1741.4 268.1 L1741.5 272.2 L1741.7 276.0 L1741.8 279.1 L1741.9 282.0 L1742.0 284.9 L1742.1 287.6 L1742.2 290.5 L1742.2 293.4 L1742.3 296.6 L1742.4 300.0 L1742.5 305.5 L1742.6 311.6 L1742.7 318.0 L1742.8 324.7 L1742.8 331.6 L1742.9 338.5 L1743.0 345.4 L1743.1 352.0 L1743.2 358.6 L1743.3 365.1 L1743.4 371.7 L1743.5 378.3 L1743.7 384.8 L1743.8 391.4 L1743.9 398.0 L1744.0 404.5 L1744.1 411.0 L1744.2 417.4 L1744.3 423.8 L1744.4 430.3 L1744.5 436.7 L1744.6 443.1 L1744.7 449.6 L1744.8 456.0 L1744.9 462.4 L1745.0 468.7 L1745.1 475.0 L1745.2 481.4 L1745.3 487.7 L1745.4 494.2 L1745.5 500.8 L1745.6 507.6 L1745.7 515.6 L1745.9 523.9 L1746.0 532.3 L1746.2 540.8 L1746.3 549.4 L1746.5 558.1 L1746.6 566.7 L1746.8 575.2 L1747.0 583.6 L1747.1 591.8 L1747.3 600.0 L1747.5 608.2 L1747.7 616.5 L1747.8 625.0 L1748.0 633.8 L1748.2 642.8 L1748.4 654.4 L1748.6 666.7 L1748.8 679.5 L1749.0 692.5 L1749.3 705.4 L1749.5 717.9 L1749.7 729.8 L1750.0 740.7 L1750.2 748.1 L1750.4 755.1 L1750.6 761.8 L1750.9 768.2 L1751.1 774.5 L1751.3 780.8 L1751.6 787.2 L1751.8 793.7 L1752.0 800.4 L1752.3 807.3 L1752.6 814.2 L1752.8 821.0 L1753.1 827.8 L1753.3 834.4 L1753.6 840.8 L1753.9 846.8 L1754.1 851.4 L1754.4 855.8 L1754.6 860.0 L1754.9 864.2 L1755.1 868.2 L1755.4 872.2 L1755.6 876.1 L1755.8 880.0 L1755.9 883.3 L1756.1 886.6 L1756.2 889.7 L1756.3 892.9 L1756.3 896.0 L1756.4 899.1 L1756.6 902.2 L1756.7 905.3 L1756.9 908.5 L1757.0 911.6 L1757.2 914.8 L1757.4 918.0 L1757.6 921.2 L1757.9 924.4 L1758.1 927.5 L1758.3 930.7 L1758.5 933.9 L1758.7 937.2 L1758.9 940.5 L1759.2 943.8 L1759.4 947.1 L1759.6 950.2 L1759.9 953.2 L1760.2 956.0 L1760.4 958.0 L1760.7 959.8 L1760.9 961.6 L1761.2 963.4 L1761.5 965.0 L1761.7 966.7 L1762.0 968.4 L1762.3 970.0 L1762.6 971.5 L1762.8 972.9 L1763.1 974.3 L1763.4 975.7 L1763.7 977.1 L1764.0 978.5 L1764.3 980.0 L1764.6 981.4 L1765.0 983.0 L1765.3 984.6 L1765.7 986.3 L1766.0 987.9 L1766.4 989.5 L1766.9 991.1 L1767.3 992.6 L1767.8 994.0 L1768.3 995.3 L1768.9 996.6 L1769.5 997.8 L1770.1 998.9 L1770.8 1000.0 L1771.5 1001.0 L1772.4 1002.1 L1773.3 1003.3 L1774.2 1004.3 L1775.2 1005.0 L1776.1 1005.3 L1777.1 1004.8 L1778.1 1003.8 L1779.1 1002.4 L1780.0 1001.0 L1780.7 1000.0 L1781.3 999.0 L1782.0 997.9 L1782.6 996.8 L1783.2 995.5 L1783.7 994.0 L1784.4 991.6 L1784.9 988.8 L1785.5 985.7 L1785.9 982.4 L1786.3 978.9 L1786.7 975.4 L1787.1 972.0 L1787.5 968.7 L1787.9 965.5 L1788.2 962.4 L1788.6 959.2 L1788.9 956.1 L1789.2 952.9 L1789.5 949.7 L1789.8 946.6 L1790.0 943.4 L1790.2 940.2 L1790.4 937.1 L1790.6 933.9 L1790.7 930.7 L1790.8 927.5 L1791.0 924.3 L1791.1 921.2 L1791.3 918.0 L1791.5 914.9 L1791.7 911.7 L1791.9 908.7 L1792.1 905.5 L1792.3 902.4 L1792.5 899.3 L1792.7 896.0 L1792.9 892.7 L1793.1 888.8 L1793.3 884.7 L1793.6 880.5 L1793.8 876.3 L1794.0 872.1 L1794.2 867.9 L1794.4 863.9 L1794.6 860.0 L1794.8 857.0 L1794.9 854.1 L1795.0 851.4 L1795.2 848.8 L1795.3 846.0 L1795.5 843.2 L1795.6 840.0 L1795.8 836.5 L1796.1 829.6 L1796.5 821.8 L1796.9 813.3 L1797.3 804.2 L1797.7 794.9 L1798.1 785.5 L1798.5 776.3 L1798.8 767.4 L1799.1 758.8 L1799.3 750.1 L1799.5 741.5 L1799.6 732.8 L1799.8 724.1 L1800.0 715.5 L1800.2 706.8 L1800.4 698.2 L1800.7 689.6 L1800.9 680.9 L1801.2 672.3 L1801.5 663.6 L1801.9 655.0 L1802.2 646.4 L1802.4 637.7 L1802.7 629.1 L1802.9 620.3 L1803.2 611.3 L1803.4 602.3 L1803.6 593.2 L1803.8 584.4 L1803.9 575.8 L1804.1 567.6 L1804.3 560.0 L1804.4 554.8 L1804.5 549.7 L1804.7 544.9 L1804.8 540.3 L1804.9 535.8 L1805.0 531.4 L1805.1 527.1 L1805.2 522.9 L1805.3 519.6 L1805.4 516.4 L1805.5 513.3 L1805.6 510.3 L1805.7 507.3 L1805.8 504.3 L1805.9 501.3 L1806.0 498.3 L1806.1 495.2 L1806.3 491.9 L1806.4 488.6 L1806.5 485.4 L1806.7 482.2 L1806.9 479.1 L1807.1 476.3 L1807.3 473.7 L1807.5 472.1 L1807.6 470.6 L1807.8 469.2 L1808.0 467.8 L1808.2 466.5 L1808.4 465.2 L1808.6 464.1 L1808.8 463.0 L1809.1 461.5 L1809.5 460.0 L1809.9 458.9 L1810.3 458.4 L1810.7 458.9 L1811.1 460.0 L1811.5 461.5 L1811.8 463.0 L1812.0 464.2 L1812.2 465.5 L1812.3 466.8 L1812.4 468.2 L1812.5 469.8 L1812.7 471.3 L1812.8 473.0 L1813.0 475.3 L1813.3 477.7 L1813.5 480.3 L1813.8 483.0 L1814.1 485.8 L1814.3 488.6 L1814.5 491.4 L1814.7 494.1 L1814.8 496.8 L1814.9 499.6 L1814.9 502.4 L1815.0 505.2 L1815.0 507.9 L1815.0 510.6 L1815.1 513.2 L1815.2 515.6 L1815.3 517.5 L1815.3 519.4 L1815.4 521.4 L1815.4 523.3 L1815.5 525.0 L1815.7 526.5 L1815.9 527.7 L1816.3 528.6 L1817.0 529.3 L1817.8 529.5 L1818.7 528.4 L1819.5 527.5 L1820.0 528.0 L1820.4 529.3 L1820.9 530.9 L1821.3 532.6 L1821.7 534.0 L1822.1 535.5 L1822.5 537.2 L1822.9 538.5 L1823.3 539.0 L1823.7 538.3 L1824.2 536.4 L1824.6 533.6 L1825.0 530.1 L1825.4 526.3 L1825.8 522.5 L1826.2 518.8 L1826.5 515.6 L1826.8 512.9 L1827.0 510.1 L1827.2 507.3 L1827.3 504.6 L1827.5 501.9 L1827.7 499.2 L1827.9 496.6 L1828.1 494.1 L1828.3 492.0 L1828.6 489.9 L1828.9 487.8 L1829.1 485.8 L1829.4 483.8 L1829.7 481.9 L1830.0 479.9 L1830.3 478.0 L1830.6 476.2 L1830.9 474.4 L1831.1 472.7 L1831.4 471.0 L1831.7 469.2 L1832.0 467.5 L1832.3 465.8 L1832.5 464.0 L1832.7 462.1 L1833.0 460.3 L1833.2 458.4 L1833.4 456.5 L1833.6 454.6 L1833.8 452.7 L1833.9 450.9 L1834.1 449.0 L1834.3 447.2 L1834.4 445.4 L1834.5 443.6 L1834.6 441.9 L1834.8 440.1 L1834.9 438.4 L1835.0 436.7 L1835.1 435.0 L1835.2 433.5 L1835.3 432.1 L1835.4 430.7 L1835.5 429.2 L1835.6 427.9 L1835.7 426.5 L1835.8 425.2 L1835.9 424.0 L1836.1 422.4 L1836.2 420.7 L1836.4 419.1 L1836.6 417.9 L1836.8 417.5 L1837.0 417.9 L1837.2 419.1 L1837.4 420.7 L1837.5 422.4 L1837.7 424.0 L1837.8 425.2 L1837.9 426.4 L1838.0 427.7 L1838.1 429.0 L1838.2 430.4 L1838.3 431.8 L1838.3 433.4 L1838.4 435.0 L1838.5 437.7 L1838.6 440.7 L1838.6 443.9 L1838.7 447.3 L1838.8 450.8 L1838.8 454.4 L1838.8 458.1 L1838.9 461.8 L1839.0 466.7 L1839.0 472.0 L1839.1 477.5 L1839.1 483.1 L1839.2 488.7 L1839.3 494.3 L1839.3 499.7 L1839.4 504.9 L1839.5 509.1 L1839.5 513.1 L1839.6 516.9 L1839.7 520.7 L1839.8 524.5 L1839.9 528.5 L1839.9 532.7 L1840.0 537.2 L1840.1 544.0 L1840.1 551.1 L1840.1 558.6 L1840.1 566.4 L1840.1 574.5 L1840.1 582.8 L1840.2 591.3 L1840.2 600.0 L1840.3 611.3 L1840.4 623.4 L1840.5 635.9 L1840.6 648.7 L1840.7 661.6 L1840.9 674.2 L1841.0 686.4 L1841.2 698.0 L1841.3 707.5 L1841.5 717.0 L1841.6 726.4 L1841.8 735.5 L1842.0 744.3 L1842.1 752.6 L1842.3 760.2 L1842.5 767.0 L1842.6 770.5 L1842.7 773.7 L1842.9 776.7 L1843.0 779.4 L1843.1 782.1 L1843.3 784.8 L1843.4 787.5 L1843.5 790.4 L1843.6 793.5 L1843.7 796.6 L1843.8 799.8 L1843.9 803.0 L1844.0 806.2 L1844.1 809.3 L1844.2 812.2 L1844.3 815.0 L1844.4 817.3 L1844.5 819.7 L1844.7 822.2 L1844.8 824.6 L1844.9 826.7 L1845.0 828.4 L1845.2 829.6 L1845.3 830.0 L1845.4 829.6 L1845.5 828.4 L1845.7 826.7 L1845.8 824.6 L1845.9 822.2 L1846.0 819.7 L1846.1 817.3 L1846.2 815.0 L1846.3 812.3 L1846.4 809.5 L1846.5 806.6 L1846.6 803.6 L1846.8 800.5 L1846.9 797.2 L1847.0 793.9 L1847.1 790.4 L1847.3 785.3 L1847.5 779.9 L1847.7 774.2 L1847.9 768.2 L1848.1 762.2 L1848.4 756.2 L1848.6 750.2 L1848.8 744.3 L1849.0 738.5 L1849.2 732.8 L1849.4 727.0 L1849.6 721.2 L1849.8 715.5 L1850.0 709.7 L1850.2 704.0 L1850.4 698.2 L1850.6 692.3 L1850.8 686.2 L1850.9 680.0 L1851.1 673.8 L1851.3 667.8 L1851.4 662.1 L1851.6 656.9 L1851.8 652.2 L1851.9 649.6 L1852.0 647.1 L1852.1 644.8 L1852.3 642.6 L1852.4 640.6 L1852.5 638.6 L1852.6 636.7 L1852.8 635.0 L1853.0 633.1 L1853.2 631.2 L1853.4 629.4 L1853.6 628.2 L1853.8 627.7 L1854.0 628.2 L1854.3 629.4 L1854.5 631.2 L1854.8 633.1 L1855.0 635.0 L1855.2 636.8 L1855.4 638.7 L1855.7 640.8 L1855.9 643.0 L1856.1 645.2 L1856.3 647.6 L1856.6 649.9 L1856.8 652.2 L1857.1 654.9 L1857.4 657.8 L1857.7 660.8 L1858.0 663.8 L1858.3 666.8 L1858.5 669.7 L1858.8 672.5 L1859.1 675.2 L1859.3 677.3 L1859.5 679.3 L1859.7 681.3 L1859.9 683.3 L1860.1 685.1 L1860.3 686.9 L1860.5 688.5 L1860.7 690.0 L1861.0 691.8 L1861.3 693.6 L1861.6 695.0 L1861.9 695.5 L1862.1 695.2 L1862.2 694.4 L1862.4 693.3 L1862.5 691.8 L1862.6 690.2 L1862.8 688.4 L1862.9 686.7 L1863.0 685.0 L1863.2 682.4 L1863.4 679.6 L1863.5 676.5 L1863.7 673.3 L1863.8 670.0 L1864.0 666.7 L1864.1 663.3 L1864.2 660.0 L1864.3 656.3 L1864.4 652.6 L1864.5 648.9 L1864.6 645.1 L1864.7 641.3 L1864.7 637.3 L1864.8 633.3 L1864.9 629.1 L1865.0 623.9 L1865.1 618.5 L1865.2 613.0 L1865.3 607.3 L1865.5 601.6 L1865.6 595.7 L1865.7 589.6 L1865.8 583.5 L1865.9 576.0 L1866.1 568.2 L1866.2 560.1 L1866.3 551.9 L1866.5 543.7 L1866.6 535.4 L1866.8 527.1 L1866.9 519.0 L1867.1 510.9 L1867.2 502.9 L1867.4 494.9 L1867.6 486.8 L1867.7 478.8 L1867.9 470.7 L1868.0 462.6 L1868.2 454.5 L1868.3 446.0 L1868.5 437.3 L1868.6 428.6 L1868.8 419.8 L1868.9 411.2 L1869.0 402.8 L1869.2 394.8 L1869.3 387.4 L1869.4 382.3 L1869.5 377.4 L1869.6 372.8 L1869.8 368.3 L1869.9 363.9 L1870.0 359.5 L1870.1 355.1 L1870.2 350.6 L1870.3 346.0 L1870.4 341.3 L1870.5 336.7 L1870.6 332.1 L1870.7 327.4 L1870.8 322.8 L1870.9 318.2 L1871.0 313.7 L1871.1 309.3 L1871.3 304.7 L1871.5 300.2 L1871.7 295.6 L1871.9 291.2 L1872.1 287.0 L1872.2 283.1 L1872.4 279.5 L1872.5 277.3 L1872.6 275.2 L1872.6 273.3 L1872.7 271.4 L1872.7 269.6 L1872.8 267.9 L1872.9 266.2 L1873.0 264.5 L1873.1 262.8 L1873.2 260.9 L1873.4 259.0 L1873.5 257.3 L1873.6 255.8 L1873.8 254.9 L1873.9 254.5 L1874.0 254.9 L1874.1 255.8 L1874.2 257.3 L1874.3 259.0 L1874.4 260.9 L1874.5 262.8 L1874.6 264.5 L1874.7 266.2 L1874.7 267.9 L1874.8 269.6 L1874.8 271.4 L1874.9 273.3 L1874.9 275.2 L1875.0 277.3 L1875.0 279.5 L1875.1 283.1 L1875.1 287.0 L1875.2 291.3 L1875.2 295.7 L1875.3 300.2 L1875.3 304.7 L1875.4 309.3 L1875.5 313.7 L1875.6 318.2 L1875.8 322.8 L1875.9 327.4 L1876.1 332.1 L1876.3 336.7 L1876.4 341.3 L1876.6 346.0 L1876.7 350.6 L1876.8 355.1 L1876.9 359.5 L1876.9 363.9 L1877.0 368.3 L1877.0 372.8 L1877.1 377.4 L1877.1 382.3 L1877.2 387.4 L1877.3 394.8 L1877.4 402.8 L1877.6 411.2 L1877.7 419.8 L1877.8 428.6 L1878.0 437.3 L1878.1 446.0 L1878.2 454.5 L1878.3 462.6 L1878.4 470.7 L1878.5 478.8 L1878.6 486.8 L1878.7 494.9 L1878.8 502.9 L1878.9 510.9 L1879.0 519.0 L1879.1 526.9 L1879.2 534.7 L1879.3 542.4 L1879.4 550.1 L1879.5 558.0 L1879.6 566.1 L1879.7 574.6 L1879.8 583.5 L1879.9 596.4 L1880.1 610.5 L1880.2 625.3 L1880.4 640.5 L1880.5 655.7 L1880.7 670.6 L1880.8 684.8 L1881.0 698.0 L1881.1 707.5 L1881.3 716.7 L1881.4 725.5 L1881.6 734.2 L1881.7 742.6 L1881.9 750.8 L1882.0 758.9 L1882.2 767.0 L1882.3 774.1 L1882.5 781.1 L1882.6 788.0 L1882.7 794.9 L1882.8 801.5 L1883.0 808.0 L1883.1 814.1 L1883.3 820.0 L1883.4 824.2 L1883.6 828.2 L1883.7 832.0 L1883.9 835.7 L1884.0 839.3 L1884.2 842.9 L1884.3 846.4 L1884.5 850.0 L1884.7 853.2 L1884.8 856.4 L1885.0 859.4 L1885.2 862.5 L1885.3 865.5 L1885.5 868.7 L1885.6 871.9 L1885.8 875.3 L1886.0 879.7 L1886.1 884.3 L1886.3 889.1 L1886.4 894.0 L1886.6 898.9 L1886.7 903.8 L1886.9 908.5 L1887.1 913.0 L1887.3 916.8 L1887.4 920.6 L1887.6 924.3 L1887.7 928.0 L1887.9 931.5 L1888.1 935.0 L1888.3 938.2 L1888.6 941.2 L1888.8 943.2 L1889.0 945.1 L1889.2 947.0 L1889.4 948.8 L1889.7 950.5 L1889.9 952.1 L1890.2 953.6 L1890.5 955.0 L1890.8 956.6 L1891.2 958.2 L1891.6 959.6 L1892.0 960.6 L1892.4 961.0 L1892.8 960.5 L1893.2 959.3 L1893.6 957.8 L1894.0 956.2 L1894.5 955.0 L1895.1 953.9 L1895.8 952.9 L1896.5 952.5 L1897.3 953.1 L1898.2 954.4 L1899.0 956.0 L1899.5 957.1 L1900.0 958.4 L1900.5 959.7 L1900.9 961.2 L1901.3 962.7 L1901.7 964.2 L1902.1 965.7 L1902.4 967.1 L1902.7 968.5 L1902.9 969.9 L1903.1 971.3 L1903.4 972.7 L1903.6 974.2 L1903.8 975.6 L1904.0 977.0 L1904.2 978.4 L1904.5 979.9 L1904.7 981.4 L1904.9 982.8 L1905.1 984.3 L1905.4 985.7 L1905.6 987.0 L1905.9 988.3 L1906.3 989.8 L1906.7 991.1 L1907.2 992.4 L1907.6 993.6 L1908.0 995.0 L1908.3 996.3 L1908.7 997.7 L1909.0 999.1 L1909.3 1000.5 L1909.6 1001.8 L1910.0 1003.0 L1910.4 1004.3 L1910.9 1005.4 L1911.4 1006.5 L1912.0 1007.5 L1912.8 1008.4 L1913.8 1009.1 L1914.5 1010.0 L1914.9 1011.1 L1915.2 1012.3 L1915.3 1013.6 L1915.5 1015.0 L1915.6 1016.2 L1915.7 1017.5 L1915.8 1018.8 L1915.9 1020.1 L1916.1 1021.4 L1916.3 1022.5 L1916.6 1023.9 L1917.1 1025.4 L1917.5 1026.5 L1918.0 1027.0 L1918.6 1026.2 L1919.3 1024.8 L1920.0 1024.0 L1920.5 1024.7 L1921.0 1026.3 L1921.5 1027.8 L1922.0 1028.5 L1922.4 1027.9 L1922.8 1026.4 L1923.2 1024.6 L1923.6 1023.1 L1924.0 1022.5 L1924.5 1023.4 L1925.0 1025.3 L1925.5 1027.1 L1926.0 1028.0 L1926.4 1027.3 L1926.8 1025.7 L1927.2 1023.8 L1927.6 1022.2 L1928.0 1021.5 L1928.5 1022.4 L1929.0 1024.2 L1929.5 1026.1 L1930.0 1027.0 L1930.4 1026.5 L1930.8 1025.3 L1931.1 1023.8 L1931.5 1022.5" fill="none" stroke="#00f" stroke-width="4.8" stroke-linejoin="round" stroke-linecap="butt"/>
<g stroke="#000" fill="none" stroke-linecap="butt">
<line x1="271" y1="32" x2="271" y2="1078" stroke-width="6"/>
<line x1="2005" y1="32" x2="2005" y2="1078" stroke-width="6"/>
<line x1="268" y1="34.5" x2="2008" y2="34.5" stroke-width="5"/>
<line x1="268" y1="1075.5" x2="2008" y2="1075.5" stroke-width="5"/>
<line x1="320.5" y1="1073" x2="320.5" y2="1063" stroke-width="5"/>
<line x1="370.1" y1="1073" x2="370.1" y2="1063" stroke-width="5"/>
<line x1="419.6" y1="1073" x2="419.6" y2="1063" stroke-width="5"/>
<line x1="469.2" y1="1073" x2="469.2" y2="1063" stroke-width="5"/>
<line x1="518.7" y1="1073" x2="518.7" y2="1052" stroke-width="5"/>
<line x1="568.3" y1="1073" x2="568.3" y2="1063" stroke-width="5"/>
<line x1="617.8" y1="1073" x2="617.8" y2="1063" stroke-width="5"/>
<line x1="667.3" y1="1073" x2="667.3" y2="1063" stroke-width="5"/>
<line x1="716.9" y1="1073" x2="716.9" y2="1063" stroke-width="5"/>
<line x1="766.4" y1="1073" x2="766.4" y2="1052" stroke-width="5"/>
<line x1="816.0" y1="1073" x2="816.0" y2="1063" stroke-width="5"/>
<line x1="865.5" y1="1073" x2="865.5" y2="1063" stroke-width="5"/>
<line x1="915.1" y1="1073" x2="915.1" y2="1063" stroke-width="5"/>
<line x1="964.6" y1="1073" x2="964.6" y2="1063" stroke-width="5"/>
<line x1="1014.1" y1="1073" x2="1014.1" y2="1052" stroke-width="5"/>
<line x1="1063.7" y1="1073" x2="1063.7" y2="1063" stroke-width="5"/>
<line x1="1113.2" y1="1073" x2="1113.2" y2="1063" stroke-width="5"/>
<line x1="1162.8" y1="1073" x2="1162.8" y2="1063" stroke-width="5"/>
<line x1="1212.3" y1="1073" x2="1212.3" y2="1063" stroke-width="5"/>
<line x1="1261.9" y1="1073" x2="1261.9" y2="1052" stroke-width="5"/>
<line x1="1311.4" y1="1073" x2="1311.4" y2="1063" stroke-width="5"/>
<line x1="1360.9" y1="1073" x2="1360.9" y2="1063" stroke-width="5"/>
<line x1="1410.5" y1="1073" x2="1410.5" y2="1063" stroke-width="5"/>
<line x1="1460.0" y1="1073" x2="1460.0" y2="1063" stroke-width="5"/>
<line x1="1509.6" y1="1073" x2="1509.6" y2="1052" stroke-width="5"/>
<line x1="1559.1" y1="1073" x2="1559.1" y2="1063" stroke-width="5"/>
<line x1="1608.7" y1="1073" x2="1608.7" y2="1063" stroke-width="5"/>
<line x1="1658.2" y1="1073" x2="1658.2" y2="1063" stroke-width="5"/>
<line x1="1707.7" y1="1073" x2="1707.7" y2="1063" stroke-width="5"/>
<line x1="1757.3" y1="1073" x2="1757.3" y2="1052" stroke-width="5"/>
<line x1="1806.8" y1="1073" x2="1806.8" y2="1063" stroke-width="5"/>
<line x1="1856.4" y1="1073" x2="1856.4" y2="1063" stroke-width="5"/>
<line x1="1905.9" y1="1073" x2="1905.9" y2="1063" stroke-width="5"/>
<line x1="1955.5" y1="1073" x2="1955.5" y2="1063" stroke-width="5"/>
<line x1="274" y1="950.1" x2="283.8" y2="950.1" stroke-width="5"/>
<line x1="274" y1="867.0" x2="283.8" y2="867.0" stroke-width="5"/>
<line x1="274" y1="783.8" x2="283.8" y2="783.8" stroke-width="5"/>
<line x1="274" y1="700.7" x2="283.8" y2="700.7" stroke-width="5"/>
<line x1="274" y1="617.5" x2="294.5" y2="617.5" stroke-width="5"/>
<line x1="274" y1="534.3" x2="283.8" y2="534.3" stroke-width="5"/>
<line x1="274" y1="451.2" x2="283.8" y2="451.2" stroke-width="5"/>
<line x1="274" y1="368.0" x2="283.8" y2="368.0" stroke-width="5"/>
<line x1="274" y1="284.9" x2="283.8" y2="284.9" stroke-width="5"/>
<line x1="274" y1="201.7" x2="294.5" y2="201.7" stroke-width="5"/>
<line x1="274" y1="118.5" x2="283.8" y2="118.5" stroke-width="5"/>
</g>
<g font-family="'Liberation Sans', Arial, Helvetica, sans-serif">
<text transform="translate(271.49,1162.80) scale(0.7270,1)" text-anchor="middle" font-size="85" letter-spacing="4.1">4000</text>
<text transform="translate(519.20,1162.80) scale(0.7270,1)" text-anchor="middle" font-size="85" letter-spacing="4.1">3500</text>
<text transform="translate(766.92,1162.80) scale(0.7270,1)" text-anchor="middle" font-size="85" letter-spacing="4.1">3000</text>
<text transform="translate(1014.63,1162.80) scale(0.7270,1)" text-anchor="middle" font-size="85" letter-spacing="4.1">2500</text>
<text transform="translate(1262.35,1162.80) scale(0.7270,1)" text-anchor="middle" font-size="85" letter-spacing="4.1">2000</text>
<text transform="translate(1510.06,1162.80) scale(0.7270,1)" text-anchor="middle" font-size="85" letter-spacing="4.1">1500</text>
<text transform="translate(1757.78,1162.80) scale(0.7270,1)" text-anchor="middle" font-size="85" letter-spacing="4.1">1000</text>
<text transform="translate(2005.49,1162.80) scale(0.7270,1)" text-anchor="middle" font-size="85" letter-spacing="4.1">500</text>
<text transform="translate(249.48,1066.80) scale(0.7270,1)" text-anchor="end" font-size="85" letter-spacing="4.1">0.0</text>
<text transform="translate(249.48,651.00) scale(0.7270,1)" text-anchor="end" font-size="85" letter-spacing="4.1">0.1</text>
<text transform="translate(249.48,235.20) scale(0.7270,1)" text-anchor="end" font-size="85" letter-spacing="4.1">0.2</text>
<text transform="translate(109.80,886.00) rotate(-90) scale(0.8183,1)" font-size="98">Absorbance</text>
<text transform="translate(109.80,434.40) rotate(-90) scale(0.8134,1)" font-size="98">(a. u.)</text>
<text transform="translate(769.80,1269.00) scale(0.8255,1)" font-size="98">Wavenumber</text>
<text transform="translate(1291.40,1269.00) scale(0.8108,1)" font-size="98">(cm</text>
<text transform="translate(1423.40,1235.00)" font-size="65">-1</text>
<text transform="translate(1482.30,1269.00) scale(0.8000,1)" font-size="98">)</text>
<text transform="translate(320.80,876.80) scale(0.945,1)" font-size="43.5">D<tspan font-size="35" dy="8">4</tspan><tspan font-size="35" dy="-23.5">H</tspan><tspan dy="15.5"> - CVD reactor</tspan></text>
<text transform="translate(320.80,936.10) scale(0.945,1)" font-size="43.5" fill="#00f">D<tspan font-size="35" dy="8">4</tspan><tspan font-size="35" dy="-23.5">H</tspan><tspan dy="15.5"> - freezer</tspan></text>
<text transform="translate(793.30,1000.00) rotate(-90) scale(0.9393,1)" font-size="35.5">2967</text>
<text transform="translate(1191.00,870.00) rotate(-90) scale(0.9420,1)" font-size="35.5">2166</text>
<text transform="translate(1567.00,1012.40) rotate(-90) scale(0.9018,1)" font-size="35.5">1408</text>
<text transform="translate(1640.30,752.30) rotate(-90) scale(0.9160,1)" font-size="35.5">1260</text>
<text transform="translate(1713.30,468.60) rotate(-90) scale(0.9200,1)" font-size="35.5">1081</text>
<text transform="translate(1749.00,189.30) rotate(-90) scale(0.9133,1)" font-size="35.5">1038</text>
<text transform="translate(1804.30,453.30) rotate(-90) scale(0.9180,1)" font-size="35.5">892</text>
<text transform="translate(1849.30,401.40) rotate(-90) scale(0.9214,1)" font-size="35.5">839</text>
<text transform="translate(1864.30,618.40) rotate(-90) scale(0.9416,1)" font-size="30">804</text>
<text transform="translate(1885.70,245.70) rotate(-90) scale(0.9285,1)" font-size="35.5">765</text>
</g>
</svg>
</body></html>
